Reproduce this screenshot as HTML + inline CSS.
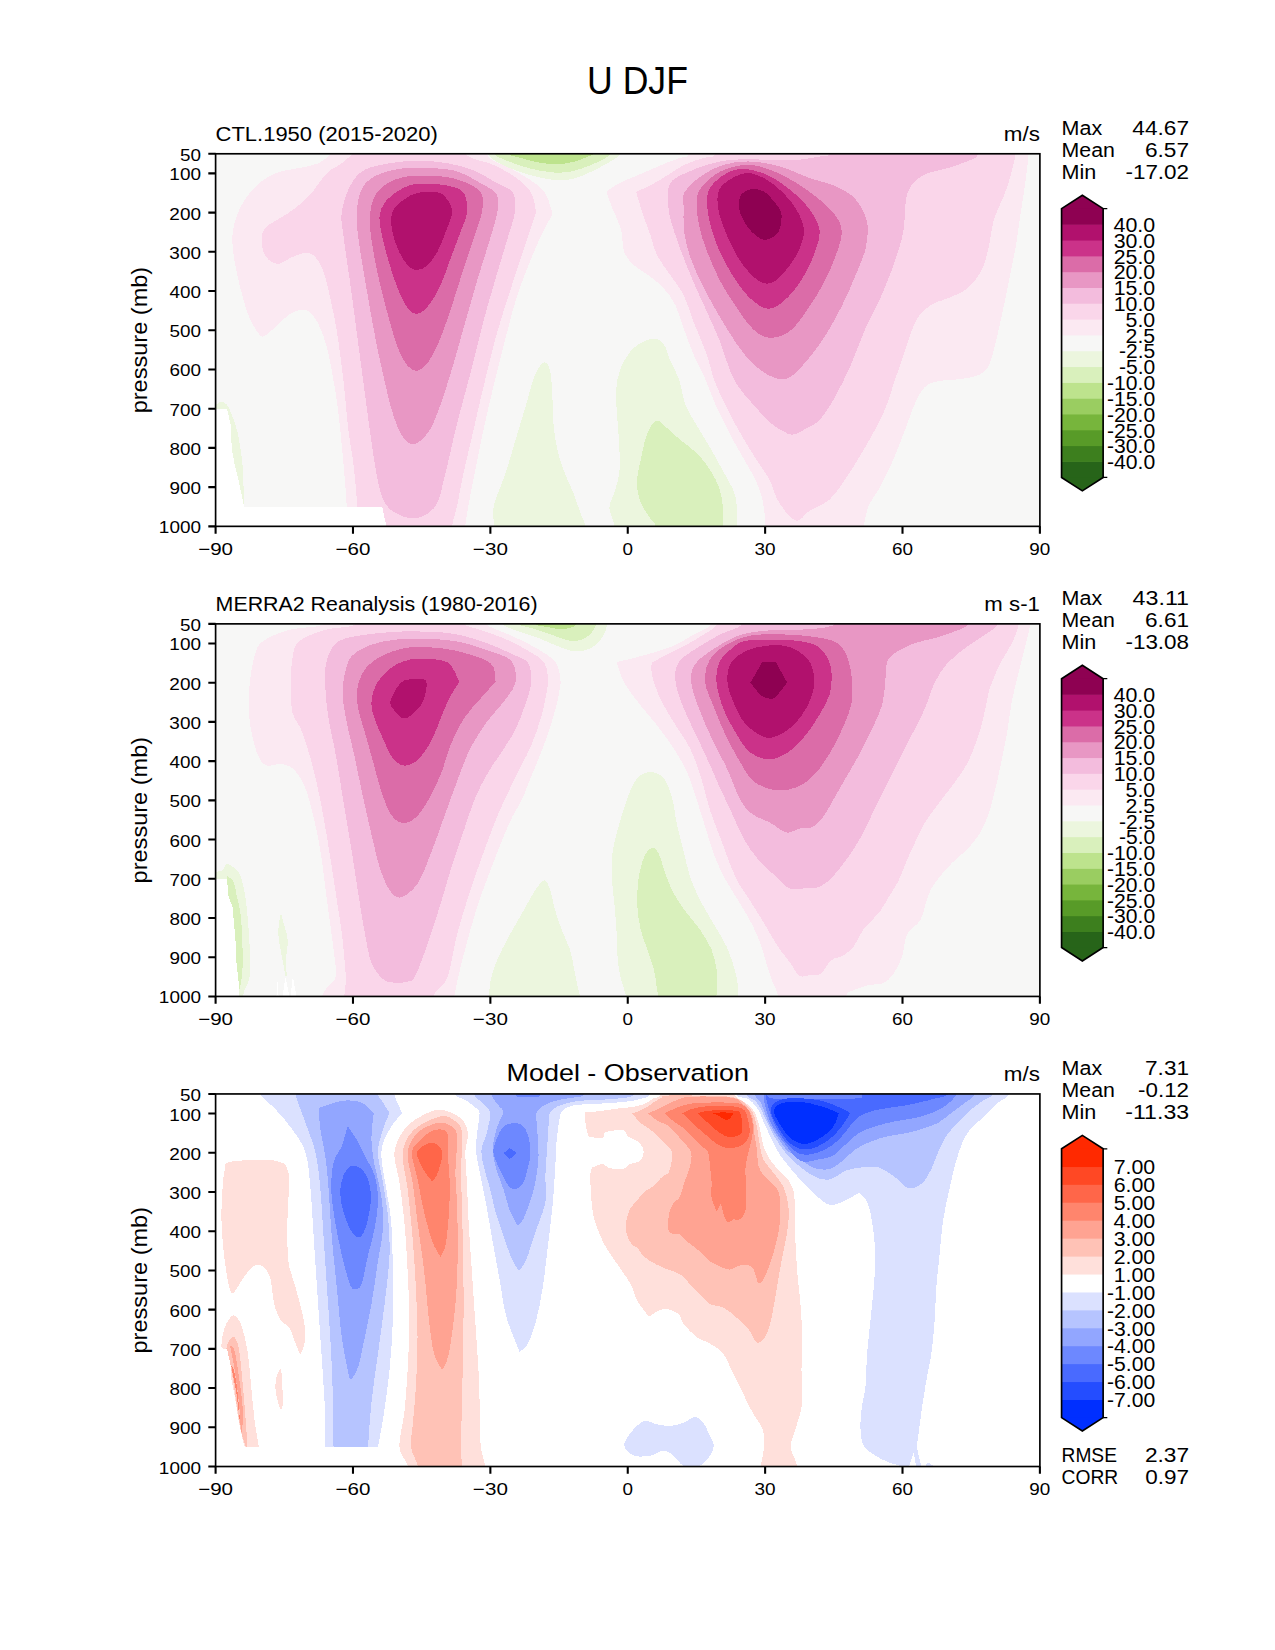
<!DOCTYPE html>
<html lang="en"><head><meta charset="utf-8"><title>U DJF</title>
<style>html,body{margin:0;padding:0;background:#fff}body{width:1275px;height:1650px;overflow:hidden}svg{display:block}text{font-family:"Liberation Sans",sans-serif;fill:#000}</style></head><body>
<svg width="1275" height="1650" viewBox="0 0 1275 1650">
<rect width="1275" height="1650" fill="#fff"/>
<defs>
<clipPath id="c0"><rect x="215.6" y="153.78" width="824.29" height="372.57"/></clipPath>
<clipPath id="c1"><rect x="215.6" y="623.87" width="824.29" height="372.57"/></clipPath>
<clipPath id="c2"><rect x="215.6" y="1093.95" width="824.29" height="372.57"/></clipPath>
</defs>
<g clip-path="url(#c0)" shape-rendering="crispEdges">
<rect x="215.6" y="153.78" width="824.29" height="372.57" fill="#f7f7f6"/>
<path d="M338.47 143.41 C335.18 146.71 329.14 158.24 318.71 163.18 C308.27 168.12 286.86 168.67 275.88 173.06 C264.9 177.45 259.14 182.94 252.82 189.53 C246.51 196.12 241.4 204.9 238 212.59 C234.6 220.27 232.95 227.41 232.4 235.65 C231.85 243.88 233.22 252.67 234.71 262 C236.19 271.33 238.82 282.31 241.29 291.65 C243.76 300.98 246.51 310.86 249.53 318 C252.55 325.14 256.94 331.45 259.41 334.47 C261.88 337.49 262.16 336.94 264.35 336.12 C266.55 335.29 268.47 333.1 272.59 329.53 C276.71 325.96 284.67 317.89 289.06 314.71 C293.45 311.52 295.65 310.97 298.94 310.42 C302.24 309.87 305.53 309.05 308.82 311.41 C312.12 313.77 315.69 318.55 318.71 324.59 C321.73 330.63 324.47 338.31 326.94 347.65 C329.41 356.98 331.61 369.61 333.53 380.59 C335.45 391.57 336.82 399.8 338.47 413.53 C340.12 427.25 342.04 447.4 343.41 462.94 C344.78 478.48 346.16 494.13 346.71 506.75 C347.25 519.38 346.71 533.38 346.71 538.71  L465.29 538.71  C465.29 536.51 464.47 532.67 465.29 525.53 C466.12 518.39 468.31 506.31 470.24 495.88 C472.16 485.45 474.63 473.92 476.82 462.94 C479.02 451.96 480.67 442.63 483.41 430 C486.16 417.37 490 400.9 493.29 387.18 C496.59 373.45 499.33 362.47 503.18 347.65 C507.02 332.82 511.69 313.06 516.35 298.24 C521.02 283.41 526.78 269.69 531.18 258.71 C535.57 247.73 539.14 239.76 542.71 232.35 C546.27 224.94 550.94 217.25 552.59 214.24  C551.49 210.94 549.02 199.69 546 194.47 C542.98 189.25 539.96 187.06 534.47 182.94 C528.98 178.82 520.47 173.88 513.06 169.76 C505.65 165.65 494.94 162.63 490 158.24 C485.06 153.84 484.51 145.88 483.41 143.41  L338.47 143.41 Z" fill="#fbe9f2"/>
<path d="M364.82 143.41 C360.98 146.71 348.08 158.24 341.76 163.18 C335.45 168.12 332.43 167.57 326.94 173.06 C321.45 178.55 315.14 189.53 308.82 196.12 C302.51 202.71 296.47 207.1 289.06 212.59 C281.65 218.08 268.75 223.02 264.35 229.06 C259.96 235.1 261.88 243.61 262.71 248.82 C263.53 254.04 266.55 257.88 269.29 260.35 C272.04 262.82 275.33 264.2 279.18 263.65 C283.02 263.1 287.96 258.87 292.35 257.06 C296.75 255.25 301.69 252.78 305.53 252.78 C309.37 252.78 312.39 253.87 315.41 257.06 C318.43 260.24 321.18 265.02 323.65 271.88 C326.12 278.75 328.04 288.35 330.24 298.24 C332.43 308.12 334.63 317.45 336.82 331.18 C339.02 344.9 341.49 364.12 343.41 380.59 C345.33 397.06 346.71 416.27 348.35 430 C350 443.73 351.81 450.15 353.29 462.94 C354.78 475.73 356.59 494.13 357.25 506.75 C357.91 519.38 357.25 533.38 357.25 538.71  L452.12 538.71  C452.12 536.51 451.29 531.02 452.12 525.53 C452.94 520.04 455.14 514.55 457.06 505.76 C458.98 496.98 460.9 485.45 463.65 472.82 C466.39 460.2 470.24 444.27 473.53 430 C476.82 415.73 479.57 403.1 483.41 387.18 C487.25 371.25 491.65 352.04 496.59 334.47 C501.53 316.9 508.12 297.14 513.06 281.76 C518 266.39 522.39 253.76 526.24 242.24 C530.08 230.71 534.47 217.53 536.12 212.59  C535.29 209.29 534.47 198.59 531.18 192.82 C527.88 187.06 522.67 182.67 516.35 178 C510.04 173.33 500.98 168.28 493.29 164.82 C485.61 161.36 476.82 160.82 470.24 157.25 C463.65 153.68 456.51 145.72 453.76 143.41  L364.82 143.41 Z" fill="#fad6ea"/>
<path d="M420.82 160.87 C429.61 160.98 438.39 161.58 447.18 163.18 C455.96 164.77 465.29 167.13 473.53 170.42 C481.76 173.72 490 179.21 496.59 182.94 C503.18 186.67 510.04 187.88 513.06 192.82 C516.08 197.76 515.8 204.35 514.71 212.59 C513.61 220.82 509.49 231.8 506.47 242.24 C503.45 252.67 500.43 262 496.59 275.18 C492.75 288.35 487.8 304.82 483.41 321.29 C479.02 337.76 474.63 356.98 470.24 374 C465.84 391.02 461.18 406.94 457.06 423.41 C452.94 439.88 449.1 459.1 445.53 472.82 C441.96 486.55 440.59 498.19 435.65 505.76 C430.71 513.34 422.75 517.18 415.88 518.28 C409.02 519.38 399.96 515.54 394.47 512.35 C388.98 509.17 385.96 505.76 382.94 499.18 C379.92 492.59 378.55 484.35 376.35 472.82 C374.16 461.29 371.96 445.37 369.76 430 C367.57 414.63 365.37 397.06 363.18 380.59 C360.98 364.12 358.78 347.65 356.59 331.18 C354.39 314.71 352.2 297.69 350 281.76 C347.8 265.84 344.78 247.18 343.41 235.65 C342.04 224.12 340.67 220.82 341.76 212.59 C342.86 204.35 346.16 193.37 350 186.24 C353.84 179.1 357.41 173.72 364.82 169.76 C372.24 165.81 385.14 164 394.47 162.52 C403.8 161.04 412.04 160.76 420.82 160.87 Z" fill="#f3bcdd"/>
<path d="M420.82 168.12 C430.16 168.34 443.88 167.95 453.76 170.42 C463.65 172.89 472.98 178.93 480.12 182.94 C487.25 186.95 493.73 189.53 496.59 194.47 C499.44 199.41 498.35 205.18 497.25 212.59 C496.15 220 493.4 227.41 490 238.94 C486.6 250.47 481.22 266.94 476.82 281.76 C472.43 296.59 468.04 312.51 463.65 327.88 C459.25 343.25 454.86 359.73 450.47 374 C446.08 388.27 441.14 403.65 437.29 413.53 C433.45 423.41 431.25 428.19 427.41 433.29 C423.57 438.4 418.35 443.62 414.24 444.16 C410.12 444.71 406.27 441.69 402.71 436.59 C399.14 431.48 396.12 423.96 392.82 413.53 C389.53 403.1 385.96 387.18 382.94 374 C379.92 360.82 377.45 348.75 374.71 334.47 C371.96 320.2 368.94 302.63 366.47 288.35 C364 274.08 361.53 260.9 359.88 248.82 C358.24 236.75 356.31 225.76 356.59 215.88 C356.86 206 358.51 196.12 361.53 189.53 C364.55 182.94 368.67 179.76 374.71 176.35 C380.75 172.95 390.08 170.48 397.76 169.11 C405.45 167.73 411.49 167.9 420.82 168.12 Z" fill="#e897c4"/>
<path d="M420.82 175.69 C427.96 175.69 438.94 175.53 447.18 177.01 C455.41 178.49 464.47 181.68 470.24 184.59 C476 187.5 479.84 189.8 481.76 194.47 C483.69 199.14 483.14 205.18 481.76 212.59 C480.39 220 476.55 229.61 473.53 238.94 C470.51 248.27 467.22 257.61 463.65 268.59 C460.08 279.57 455.96 293.29 452.12 304.82 C448.27 316.35 444.43 328.43 440.59 337.76 C436.75 347.1 432.9 355.33 429.06 360.82 C425.22 366.31 421.1 369.88 417.53 370.71 C413.96 371.53 410.94 369.61 407.65 365.76 C404.35 361.92 401.06 356.16 397.76 347.65 C394.47 339.14 391.18 326.78 387.88 314.71 C384.59 302.63 380.75 287.8 378 275.18 C375.25 262.55 372.78 248.82 371.41 238.94 C370.04 229.06 369.22 223.02 369.76 215.88 C370.31 208.75 371.69 201.61 374.71 196.12 C377.73 190.63 382.94 186.13 387.88 182.94 C392.82 179.76 398.86 178.22 404.35 177.01 C409.84 175.8 413.69 175.69 420.82 175.69 Z" fill="#db6ca8"/>
<path d="M424.12 183.6 C430.16 183.71 440.59 184.04 447.18 185.58 C453.76 187.11 460.35 188.32 463.65 192.82 C466.94 197.33 467.49 206 466.94 212.59 C466.39 219.18 463.1 224.67 460.35 232.35 C457.61 240.04 453.76 249.92 450.47 258.71 C447.18 267.49 444.16 277.37 440.59 285.06 C437.02 292.75 432.9 300.05 429.06 304.82 C425.22 309.6 421.1 313.17 417.53 313.72 C413.96 314.27 410.94 312.35 407.65 308.12 C404.35 303.89 401.06 296.59 397.76 288.35 C394.47 280.12 390.63 268.04 387.88 258.71 C385.14 249.37 382.67 239.49 381.29 232.35 C379.92 225.22 379.1 220.82 379.65 215.88 C380.2 210.94 381.57 206.82 384.59 202.71 C387.61 198.59 393.37 194.14 397.76 191.18 C402.16 188.21 406.55 186.18 410.94 184.92 C415.33 183.65 418.08 183.49 424.12 183.6 Z" fill="#cb3289"/>
<path d="M437.29 192.16 C442.24 193.26 444.71 196.01 447.18 199.41 C449.65 202.82 452.39 207.1 452.12 212.59 C451.84 218.08 448 225.76 445.53 232.35 C443.06 238.94 440.31 246.63 437.29 252.12 C434.27 257.61 430.71 262.33 427.41 265.29 C424.12 268.26 420.82 269.91 417.53 269.91 C414.24 269.91 410.94 268.81 407.65 265.29 C404.35 261.78 400.4 254.86 397.76 248.82 C395.13 242.78 392.66 235.37 391.84 229.06 C391.01 222.75 390.74 215.88 392.82 210.94 C394.91 206 400.24 202.43 404.35 199.41 C408.47 196.39 412.04 194.03 417.53 192.82 C423.02 191.62 432.35 191.07 437.29 192.16 Z" fill="#b1116d"/>
<path d="M487.53 143.41 C487.53 145.17 485.61 150.66 487.53 153.95 C489.45 157.25 493.84 160.27 499.06 163.18 C504.27 166.09 511.69 168.94 518.82 171.41 C525.96 173.88 534.2 176.52 541.88 178 C549.57 179.48 557.8 180.85 564.94 180.31 C572.08 179.76 578.12 177.29 584.71 174.71 C591.29 172.13 598.71 168.12 604.47 164.82 C610.24 161.53 616.82 158.51 619.29 154.94 C621.76 151.37 619.29 145.33 619.29 143.41  L487.53 143.41 Z" fill="#ecf6de"/>
<path d="M494.12 143.41 C494.12 145.17 491.65 150.93 494.12 153.95 C496.59 156.97 503.18 159.17 508.94 161.53 C514.71 163.89 521.57 166.31 528.71 168.12 C535.84 169.93 544.63 171.85 551.76 172.4 C558.9 172.95 564.94 172.67 571.53 171.41 C578.12 170.15 584.98 167.57 591.29 164.82 C597.61 162.08 606.39 158.51 609.41 154.94 C612.43 151.37 609.41 145.33 609.41 143.41  L494.12 143.41 Z" fill="#d9f0bc"/>
<path d="M508.94 143.41 C508.94 145.17 506.75 151.48 508.94 153.95 C511.14 156.42 517.18 156.81 522.12 158.24 C527.06 159.66 532.55 161.53 538.59 162.52 C544.63 163.51 552.31 164.33 558.35 164.16 C564.39 164 569.88 162.79 574.82 161.53 C579.76 160.27 584.98 157.85 588 156.59 C591.02 155.33 592.12 156.15 592.94 153.95 C593.76 151.76 592.94 145.17 592.94 143.41  L508.94 143.41 Z" fill="#bde38d"/>
<path d="M687.81 143.41 C687.81 145.44 688.91 153.24 687.81 155.6 C686.71 157.96 684.9 156.31 681.22 157.58 C677.55 158.84 671.23 160.98 665.74 163.18 C660.25 165.37 653.77 168.39 648.28 170.75 C642.79 173.11 637.91 175.15 632.8 177.34 C627.69 179.54 622.04 181.51 617.65 183.93 C613.25 186.35 608.31 190.52 606.45 191.84  C607.49 194.75 610.29 203.09 612.71 209.29 C615.12 215.5 619.02 221.92 620.94 229.06 C622.86 236.2 622.04 246.08 624.24 252.12 C626.43 258.16 629.73 261.18 634.12 265.29 C638.51 269.41 645.65 272.98 650.59 276.82 C655.53 280.67 659.65 283.69 663.76 288.35 C667.88 293.02 672 298.24 675.29 304.82 C678.59 311.41 680.51 319.65 683.53 327.88 C686.55 336.12 689.79 345.73 693.41 354.24 C697.04 362.75 701.65 370.65 705.27 378.94 C708.89 387.23 711.36 395.41 715.15 403.98 C718.94 412.54 723.83 422.2 728 430.33 C732.17 438.45 736.24 445.65 740.19 452.73 C744.14 459.81 748.37 466.35 751.72 472.82 C755.07 479.3 758.2 485.29 760.28 491.6 C762.37 497.91 763.36 505.05 764.24 510.71 C765.11 516.36 765.33 520.86 765.55 525.53 C765.77 530.2 765.55 536.51 765.55 538.71  L863.82 538.71  C863.82 536.51 863 531.02 863.82 525.53 C864.65 520.04 866.29 511.8 868.76 505.76 C871.24 499.73 874.8 496.43 878.65 489.29 C882.49 482.16 887.43 472.82 891.82 462.94 C896.22 453.06 901.16 439.88 905 430 C908.84 420.12 911.59 410.78 914.88 403.65 C918.18 396.51 920.92 390.91 924.76 387.18 C928.61 383.44 931.9 382.62 937.94 381.25 C943.98 379.87 953.86 380.15 961 378.94 C968.14 377.73 975.82 377.02 980.76 374 C985.71 370.98 987.35 369.61 990.65 360.82 C993.94 352.04 997.51 334.47 1000.53 321.29 C1003.55 308.12 1006.29 293.84 1008.76 281.76 C1011.24 269.69 1013.43 259.8 1015.35 248.82 C1017.27 237.84 1018.65 226.86 1020.29 215.88 C1021.94 204.9 1023.86 193.1 1025.24 182.94 C1026.61 172.78 1027.98 161.53 1028.53 154.94 C1029.08 148.35 1028.53 145.33 1028.53 143.41  L687.81 143.41 Z" fill="#fbe9f2"/>
<path d="M714.16 143.41 C714.16 145.44 715.65 153.24 714.16 155.6 C712.68 157.96 708.56 156.7 705.27 157.58 C701.98 158.45 698.41 159.39 694.4 160.87 C690.39 162.35 686 163.89 681.22 166.47 C676.45 169.05 670.85 173.22 665.74 176.35 C660.64 179.48 655.53 182.67 650.59 185.25 C645.65 187.83 638.51 190.74 636.09 191.84  C637.14 195.29 639.94 205.29 642.35 212.59 C644.77 219.89 648.12 228.51 650.59 235.65 C653.06 242.78 653.88 248.82 657.18 255.41 C660.47 262 665.96 268.59 670.35 275.18 C674.75 281.76 679.69 287.25 683.53 294.94 C687.37 302.63 689.57 311.41 693.41 321.29 C697.25 331.18 702.96 344.02 706.59 354.24 C710.21 364.45 711.58 373.23 715.15 382.56 C718.72 391.9 723.61 401.45 728 410.24 C732.39 419.02 736.95 427.31 741.51 435.27 C746.06 443.23 750.73 450.7 755.34 458 C759.95 465.3 765.61 472.38 769.18 479.08 C772.75 485.78 774.01 492.75 776.75 498.19 C779.5 503.62 782.72 508.07 785.65 511.69 C788.57 515.32 791.83 518.67 794.32 519.93 C796.81 521.19 798.16 520.7 800.58 519.27 C802.99 517.84 803.98 514.66 808.81 511.36 C813.64 508.07 823.36 505.05 829.56 499.51 C835.77 493.96 840.16 486.71 846.04 478.09 C851.91 469.47 858.55 458.71 864.81 447.79 C871.07 436.86 878.59 423.74 883.59 412.54 C888.58 401.34 891.05 391.4 894.79 380.59 C898.52 369.77 902.36 357.8 905.99 347.65 C909.61 337.49 912.3 326.78 916.53 319.65 C920.76 312.51 926.14 308.39 931.35 304.82 C936.57 301.25 941.78 300.98 947.82 298.24 C953.86 295.49 961.82 293.29 967.59 288.35 C973.35 283.41 978.84 275.73 982.41 268.59 C985.98 261.45 987.08 253.76 989 245.53 C990.92 237.29 991.47 227.41 993.94 219.18 C996.41 210.94 1001.08 203.25 1003.82 196.12 C1006.57 188.98 1008.49 183.22 1010.41 176.35 C1012.33 169.49 1014.53 160.43 1015.35 154.94 C1016.18 149.45 1015.35 145.33 1015.35 143.41  L714.16 143.41 Z" fill="#fad6ea"/>
<path d="M828.47 143.41 C828.47 145.33 829.95 152.75 828.47 154.94 C826.99 157.14 824.74 155.76 819.58 156.59 C814.42 157.41 805.58 159.33 797.51 159.88 C789.44 160.43 779.94 159.99 771.15 159.88 C762.37 159.77 752.82 159.06 744.8 159.22 C736.78 159.39 729.65 159.83 723.06 160.87 C716.47 161.91 711.15 163.62 705.27 165.48 C699.4 167.35 693.3 169.55 687.81 172.07 C682.32 174.6 675.62 177.34 672.33 180.64 C669.04 183.93 668.49 185.96 668.05 191.84 C667.61 197.71 667.66 206.38 669.69 215.88 C671.73 225.38 676.28 237.84 680.24 248.82 C684.19 259.8 689.24 271.88 693.41 281.76 C697.58 291.65 700.99 298.51 705.27 308.12 C709.55 317.73 715.59 330.74 719.11 339.41 C722.62 348.09 723.61 352.97 726.35 360.16 C729.1 367.36 731.57 375.7 735.58 382.56 C739.58 389.43 744.58 394.64 750.4 401.34 C756.22 408.04 764.89 417.7 770.49 422.75 C776.09 427.8 780.25 429.67 784 431.65 C787.75 433.62 789.36 435.11 793 434.61 C796.64 434.12 801.35 431.21 805.85 428.68 C810.35 426.16 815.29 424.51 820.01 419.46 C824.73 414.41 829.07 407.38 834.18 398.38 C839.28 389.37 845.54 376.85 850.65 365.44 C855.75 354.02 859.87 341.06 864.81 329.86 C869.75 318.66 875.52 309 880.29 298.24 C885.07 287.47 889.9 275.18 893.47 265.29 C897.04 255.41 899.89 246.08 901.71 238.94 C903.52 231.8 903.52 229.61 904.34 222.47 C905.16 215.33 904.89 202.98 906.65 196.12 C908.4 189.25 911.31 185.14 914.88 181.29 C918.45 177.45 922.57 175.25 928.06 173.06 C933.55 170.86 940.69 170.31 947.82 168.12 C954.96 165.92 965.94 162.08 970.88 159.88 C975.82 157.69 976.37 157.69 977.47 154.94 C978.57 152.2 977.47 145.33 977.47 143.41  L828.47 143.41 Z" fill="#f3bcdd"/>
<path d="M750.18 161.53 C759.51 161.8 769.94 163.73 779.82 166.47 C789.71 169.22 800.14 174.71 809.47 178 C818.8 181.29 828.14 182.67 835.82 186.24 C843.51 189.8 850.37 193.37 855.59 199.41 C860.8 205.45 865.47 214.24 867.12 222.47 C868.76 230.71 867.39 240.04 865.47 248.82 C863.55 257.61 859.43 265.84 855.59 275.18 C851.75 284.51 847.35 294.94 842.41 304.82 C837.47 314.71 831.43 325.69 825.94 334.47 C820.45 343.25 815.51 350.39 809.47 357.53 C803.43 364.67 795.75 374 789.71 377.29 C783.67 380.59 779.27 379.49 773.24 377.29 C767.2 375.1 759.51 369.61 753.47 364.12 C747.43 358.63 742.49 352.04 737 344.35 C731.51 336.67 726.02 327.33 720.53 318 C715.04 308.67 709 298.24 704.06 288.35 C699.12 278.47 694.18 268.04 690.88 258.71 C687.59 249.37 685.5 241.14 684.29 232.35 C683.09 223.57 683.64 212.59 683.64 206 C683.64 199.41 681.44 197.76 684.29 192.82 C687.15 187.88 694.18 181.02 700.76 176.35 C707.35 171.69 715.59 167.29 723.82 164.82 C732.06 162.35 740.84 161.25 750.18 161.53 Z" fill="#e897c4"/>
<path d="M746.88 164.82 C755.12 164.55 761.71 166.75 769.94 169.76 C778.18 172.78 788.06 178 796.29 182.94 C804.53 187.88 812.76 193.92 819.35 199.41 C825.94 204.9 832.09 210.39 835.82 215.88 C839.56 221.37 841.75 225.76 841.75 232.35 C841.75 238.94 839.01 246.63 835.82 255.41 C832.64 264.2 827.59 275.73 822.65 285.06 C817.71 294.39 811.67 303.73 806.18 311.41 C800.69 319.1 795.75 326.78 789.71 331.18 C783.67 335.57 775.98 338.04 769.94 337.76 C763.9 337.49 758.96 334.47 753.47 329.53 C747.98 324.59 742.49 316.08 737 308.12 C731.51 300.16 725.47 291.1 720.53 281.76 C715.59 272.43 710.92 261.45 707.35 252.12 C703.78 242.78 700.87 234.55 699.12 225.76 C697.36 216.98 696.26 206 696.81 199.41 C697.36 192.82 698.46 190.9 702.41 186.24 C706.36 181.57 713.12 174.98 720.53 171.41 C727.94 167.84 738.65 165.1 746.88 164.82 Z" fill="#db6ca8"/>
<path d="M743.59 168.78 C750.18 169.05 758.96 171.25 766.65 174.71 C774.33 178.16 782.57 183.76 789.71 189.53 C796.84 195.29 804.53 202.71 809.47 209.29 C814.41 215.88 818.25 222.47 819.35 229.06 C820.45 235.65 818.25 241.69 816.06 248.82 C813.86 255.96 810.02 264.75 806.18 271.88 C802.33 279.02 797.94 285.88 793 291.65 C788.06 297.41 781.47 303.84 776.53 306.47 C771.59 309.11 768.29 309.38 763.35 307.46 C758.41 305.54 752.37 300.87 746.88 294.94 C741.39 289.01 735.35 280.12 730.41 271.88 C725.47 263.65 720.8 254.31 717.24 245.53 C713.67 236.75 710.65 227.41 709 219.18 C707.35 210.94 706.53 202.16 707.35 196.12 C708.18 190.08 710.65 186.78 713.94 182.94 C717.24 179.1 722.18 175.42 727.12 173.06 C732.06 170.7 737 168.5 743.59 168.78 Z" fill="#cb3289"/>
<path d="M746.88 173.06 C753.47 172.78 760.61 176.35 766.65 179.65 C772.69 182.94 778.18 187.88 783.12 192.82 C788.06 197.76 792.84 203.25 796.29 209.29 C799.75 215.33 803.32 222.47 803.87 229.06 C804.42 235.65 801.95 242.78 799.59 248.82 C797.23 254.86 793.55 260.08 789.71 265.29 C785.86 270.51 780.65 277.1 776.53 280.12 C772.41 283.14 768.84 283.96 765 283.41 C761.16 282.86 757.86 280.94 753.47 276.82 C749.08 272.71 743.04 265.57 738.65 258.71 C734.25 251.84 730.41 243.33 727.12 235.65 C723.82 227.96 720.36 219.73 718.88 212.59 C717.4 205.45 716.85 198.04 718.22 192.82 C719.6 187.61 722.34 184.59 727.12 181.29 C731.89 178 740.29 173.33 746.88 173.06 Z" fill="#b1116d"/>
<path d="M750.18 189.53 C754.02 188.71 759.24 188.98 763.35 191.18 C767.47 193.37 771.86 198.86 774.88 202.71 C777.9 206.55 780.92 209.29 781.47 214.24 C782.02 219.18 780.65 228.13 778.18 232.35 C775.71 236.58 770.22 238.94 766.65 239.6 C763.08 240.26 760.06 238.61 756.76 236.31 C753.47 234 749.74 229.99 746.88 225.76 C744.03 221.54 740.73 215.88 739.64 210.94 C738.54 206 738.54 199.69 740.29 196.12 C742.05 192.55 746.33 190.35 750.18 189.53 Z" fill="#8e0152"/>
<path d="M584.71 538.71 L494.12 538.71  C494.12 536.51 494.28 529.92 494.12 525.53 C493.95 521.14 492.85 516.75 493.13 512.35 C493.4 507.96 493.68 505.76 495.76 499.18 C497.85 492.59 502.35 482.71 505.65 472.82 C508.94 462.94 512.24 450.86 515.53 439.88 C518.82 428.9 522.12 417.92 525.41 406.94 C528.71 395.96 532.11 381.41 535.29 374 C538.48 366.59 542.05 363.02 544.52 362.47 C546.99 361.92 548.8 364.94 550.12 370.71 C551.44 376.47 551.87 388.27 552.42 397.06 C552.97 405.84 552.7 415.18 553.41 423.41 C554.13 431.65 555.06 438.78 556.71 446.47 C558.35 454.16 560.55 461.84 563.29 469.53 C566.04 477.22 570.16 484.9 573.18 492.59 C576.2 500.27 579.49 510.43 581.41 515.65 C583.33 520.86 584.16 520.04 584.71 523.88 C585.25 527.73 584.71 536.24 584.71 538.71 Z" fill="#ecf6de"/>
<path d="M736.89 538.71 L614.35 538.71  C614.35 536.51 615.18 530.75 614.35 525.53 C613.53 520.31 609.41 512.9 609.41 507.41 C609.41 501.92 612.71 498.35 614.35 492.59 C616 486.82 618.47 480.51 619.29 472.82 C620.12 465.14 619.68 456.35 619.29 446.47 C618.91 436.59 617.54 422.86 616.99 413.53 C616.44 404.2 615.34 398.16 616 390.47 C616.66 382.78 617.92 374.55 620.94 367.41 C623.96 360.27 628.9 352.42 634.12 347.65 C639.33 342.87 647.29 339.3 652.24 338.75 C657.18 338.2 660.75 340.67 663.76 344.35 C666.78 348.03 667.83 355.06 670.35 360.82 C672.88 366.59 676.45 371.75 678.92 378.94 C681.39 386.13 682.49 396.67 685.18 403.98 C687.87 411.28 691.11 415.84 695.06 422.75 C699.01 429.67 704.28 437.52 708.89 445.48 C713.51 453.44 718.72 463.22 722.73 470.52 C726.74 477.82 730.64 483.64 732.94 489.29 C735.25 494.95 735.91 498.41 736.56 504.45 C737.22 510.49 736.84 519.82 736.89 525.53 C736.95 531.24 736.89 536.51 736.89 538.71 Z" fill="#ecf6de"/>
<path d="M723.06 538.71 L655.53 538.71  C655.53 536.51 656.35 528.82 655.53 525.53 C654.71 522.24 653.06 522.78 650.59 518.94 C648.12 515.1 643.01 508.51 640.71 502.47 C638.4 496.43 636.75 489.84 636.75 482.71 C636.75 475.57 638.95 467.88 640.71 459.65 C642.46 451.41 644.66 439.77 647.29 433.29 C649.93 426.82 653.5 421.87 656.52 420.78 C659.54 419.68 661.46 423.52 665.41 426.71 C669.36 429.89 675.02 435.49 680.24 439.88 C685.45 444.27 691.76 448.12 696.71 453.06 C701.65 458 706.04 463.49 709.88 469.53 C713.73 475.57 717.57 482.71 719.76 489.29 C721.96 495.88 722.51 503.02 723.06 509.06 C723.61 515.1 723.06 520.59 723.06 525.53 C723.06 530.47 723.06 536.51 723.06 538.71 Z" fill="#d9f0bc"/>
<path d="M205 404.1 C206.83 404.1 213.25 404.48 216 404.1 C218.75 403.72 219.67 401.67 221.5 401.8 C223.33 401.93 225.17 402.42 227 404.9 C228.83 407.38 230.8 412.38 232.5 416.7 C234.2 421.02 235.9 425.58 237.2 430.8 C238.5 436.02 239.4 442.25 240.3 448 C241.2 453.75 242.08 459.28 242.6 465.3 C243.12 471.32 243.13 478.35 243.4 484.1 C243.67 489.85 244.03 495.48 244.2 499.8 C244.37 504.12 244.37 508.3 244.4 510  L205 510  L205 404.1 Z" fill="#ecf6de"/>
<path d="M205 408.8 L227 408.8 L230.9 426.1 L231.7 448 L234.8 465.3 L238.7 481 L244.2 506.9 L382.3 506.9 L386.5 527 L386.5 540 L205 540 Z" fill="#ffffff"/>
</g>
<path d="M215.6 526.35 v7.29 M352.98 526.35 v7.29 M490.37 526.35 v7.29 M627.75 526.35 v7.29 M765.13 526.35 v7.29 M902.51 526.35 v7.29 M1039.89 526.35 v7.29 M215.6 153.78 h-7.29 M215.6 173.39 h-7.29 M215.6 212.61 h-7.29 M215.6 251.82 h-7.29 M215.6 291.04 h-7.29 M215.6 330.26 h-7.29 M215.6 369.48 h-7.29 M215.6 408.7 h-7.29 M215.6 447.91 h-7.29 M215.6 487.13 h-7.29 M215.6 526.35 h-7.29" stroke="#000" stroke-width="2.08" fill="none"/>
<rect x="215.6" y="153.78" width="824.29" height="372.57" fill="none" stroke="#000" stroke-width="1.67"/>
<g clip-path="url(#c1)" shape-rendering="crispEdges">
<rect x="215.6" y="623.87" width="824.29" height="372.57" fill="#f7f7f6"/>
<path d="M322 613.41 C322 615.33 327.49 622.2 322 624.94 C316.51 627.69 298.94 627.14 289.06 629.88 C279.18 632.63 268.47 637.02 262.71 641.41 C256.94 645.8 256.67 648.82 254.47 656.24 C252.27 663.65 250.46 676.55 249.53 685.88 C248.6 695.22 248.32 703.45 248.87 712.24 C249.42 721.02 251.07 730.9 252.82 738.59 C254.58 746.27 256.94 753.8 259.41 758.35 C261.88 762.91 264.35 765 267.65 765.93 C270.94 766.86 275.06 763.57 279.18 763.95 C283.29 764.34 288.24 764.78 292.35 768.24 C296.47 771.69 300.59 777.57 303.88 784.71 C307.18 791.84 309.37 800.08 312.12 811.06 C314.86 822.04 317.88 835.76 320.35 850.59 C322.82 865.41 324.75 883.53 326.94 900 C329.14 916.47 332.05 936.78 333.53 949.41 C335.01 962.04 336.66 969.73 335.84 975.76 C335.01 981.8 330.89 982.35 328.59 985.65 C326.28 988.94 323.1 991.69 322 995.53 C320.9 999.37 322 1006.51 322 1008.71  L454.75 1008.71  C454.75 1006.18 453.22 1002.72 454.75 993.55 C456.29 984.38 460.46 967.42 463.98 953.69 C467.49 939.97 471.5 924.93 475.84 911.2 C480.17 897.47 484.51 885.84 490 871.34 C495.49 856.85 503.51 836.09 508.78 824.24 C514.05 812.38 518.44 806.78 521.62 800.19 C524.81 793.6 525.25 791.18 527.88 784.71 C530.52 778.23 534.31 769.17 537.44 761.32 C540.56 753.47 543.53 746.77 546.66 737.6 C549.79 728.43 553.85 715.47 556.21 706.31 C558.57 697.14 560.05 686.54 560.82 682.59  C560 679.29 560 668.59 555.88 662.82 C551.76 657.06 543.25 652.39 536.12 648 C528.98 643.61 520.2 639.76 513.06 636.47 C505.92 633.18 497.69 630.32 493.29 628.24 C488.9 626.15 487.8 626.42 486.71 623.95 C485.61 621.48 486.71 615.17 486.71 613.41  L322 613.41 Z" fill="#fbe9f2"/>
<path d="M354.94 613.41 C354.94 615.33 359.88 622.2 354.94 624.94 C350 627.69 334.63 627.14 325.29 629.88 C315.96 632.63 304.43 636.47 298.94 641.41 C293.45 646.35 293.73 652.12 292.35 659.53 C290.98 666.94 290.71 677.1 290.71 685.88 C290.71 694.67 290.43 704.55 292.35 712.24 C294.27 719.92 299.22 724.31 302.24 732 C305.25 739.69 308 749.57 310.47 758.35 C312.94 767.14 314.86 774.82 317.06 784.71 C319.25 794.59 321.45 805.57 323.65 817.65 C325.84 829.73 328.04 843.45 330.24 857.18 C332.43 870.9 334.9 887.37 336.82 900 C338.75 912.63 340.39 921.96 341.76 932.94 C343.14 943.92 344.4 957.65 345.06 965.88 C345.72 974.12 345.83 977.41 345.72 982.35 C345.61 987.29 344.62 991.14 344.4 995.53 C344.18 999.92 344.4 1006.51 344.4 1008.71  L434.66 1008.71  C434.66 1006.18 432.52 998.82 434.66 993.55 C436.8 988.28 443.77 986.91 447.51 977.08 C451.24 967.25 453.11 949.47 457.06 934.59 C461.01 919.71 465.35 905.44 471.22 887.81 C477.1 870.19 486.76 843.45 492.31 828.85 C497.85 814.24 500.16 809.74 504.49 800.19 C508.83 790.64 513.88 780.64 518.33 771.53 C522.78 762.42 527.22 755.06 531.18 745.51 C535.13 735.95 539.19 724.7 542.05 714.21 C544.9 703.73 547.26 687.86 548.31 682.59  C547.65 679.29 548.03 668.31 544.35 662.82 C540.67 657.33 533.1 653.76 526.24 649.65 C519.37 645.53 510.86 641.41 503.18 638.12 C495.49 634.82 486.71 632.24 480.12 629.88 C473.53 627.52 466.39 626.7 463.65 623.95 C460.9 621.21 463.65 615.17 463.65 613.41  L354.94 613.41 Z" fill="#fad6ea"/>
<path d="M420.82 631.53 C430.71 631.86 442.78 631.91 453.76 633.84 C464.75 635.76 476.82 639.6 486.71 643.06 C496.59 646.52 506.2 651.29 513.06 654.59 C519.92 657.88 524.86 658.16 527.88 662.82 C530.9 667.49 531.73 675.34 531.18 682.59 C530.63 689.84 527.22 698.45 524.59 706.31 C521.95 714.16 518.99 722.39 515.36 729.69 C511.74 737 507.46 742.87 502.85 750.12 C498.24 757.36 492.31 765.22 487.69 773.18 C483.08 781.14 479.07 788.55 475.18 797.88 C471.28 807.22 468.09 818.14 464.31 829.18 C460.52 840.21 456.78 850.42 452.45 864.09 C448.11 877.76 443 896.27 438.28 911.2 C433.56 926.13 428.07 942.71 424.12 953.69 C420.16 964.67 417.31 972.42 414.56 977.08 C411.82 981.75 411 980.76 407.65 981.69 C404.3 982.63 398.59 983.12 394.47 982.68 C390.35 982.24 386.78 982.41 382.94 979.06 C379.1 975.71 374.43 970.27 371.41 962.59 C368.39 954.9 367.02 944.47 364.82 932.94 C362.63 921.41 360.43 907.14 358.24 893.41 C356.04 879.69 354.12 865.96 351.65 850.59 C349.18 835.22 346.16 817.65 343.41 801.18 C340.67 784.71 337.65 765.49 335.18 751.76 C332.71 738.04 330.24 729.8 328.59 718.82 C326.94 707.84 325.57 695.76 325.29 685.88 C325.02 676 324.75 666.94 326.94 659.53 C329.14 652.12 332.16 645.53 338.47 641.41 C344.78 637.29 355.49 636.42 364.82 634.82 C374.16 633.23 385.14 632.41 394.47 631.86 C403.8 631.31 410.94 631.2 420.82 631.53 Z" fill="#f3bcdd"/>
<path d="M420.82 638.78 C431.25 639.05 445.53 639.33 457.06 641.41 C468.59 643.5 480.94 648 490 651.29 C499.06 654.59 507.18 655.96 511.41 661.18 C515.64 666.39 516.74 675.73 515.36 682.59 C513.99 689.45 507.95 695.76 503.18 702.35 C498.4 708.94 492.2 714.43 486.71 722.12 C481.22 729.8 475.18 738.59 470.24 748.47 C465.29 758.35 461.45 769.88 457.06 781.41 C452.67 792.94 448.27 805.57 443.88 817.65 C439.49 829.73 435.1 842.9 430.71 853.88 C426.31 864.86 422.47 876.28 417.53 883.53 C412.59 890.78 405.73 896.27 401.06 897.36 C396.39 898.46 393.1 895.17 389.53 890.12 C385.96 885.07 382.67 876.39 379.65 867.06 C376.63 857.73 374.16 845.65 371.41 834.12 C368.67 822.59 365.92 810.51 363.18 797.88 C360.43 785.25 357.69 770.98 354.94 758.35 C352.2 745.73 348.74 732.55 346.71 722.12 C344.67 711.69 343.14 703.45 342.75 695.76 C342.37 688.08 342.92 682.59 344.4 676 C345.88 669.41 347.15 661.45 351.65 656.24 C356.15 651.02 364.27 647.45 371.41 644.71 C378.55 641.96 386.24 640.75 394.47 639.76 C402.71 638.78 410.39 638.5 420.82 638.78 Z" fill="#e897c4"/>
<path d="M495.6 681.6 C493.02 684.51 485.44 692.85 480.12 699.06 C474.79 705.26 468.59 711.14 463.65 718.82 C458.71 726.51 454.31 735.84 450.47 745.18 C446.63 754.51 444.71 764.94 440.59 774.82 C436.47 784.71 430.27 797.06 425.76 804.47 C421.26 811.88 417.53 816.22 413.58 819.29 C409.62 822.37 405.84 823.74 402.05 822.92 C398.26 822.09 394.31 819.62 390.85 814.35 C387.39 809.08 384.26 800.08 381.29 791.29 C378.33 782.51 375.8 771.53 373.06 761.65 C370.31 751.76 367.29 740.78 364.82 732 C362.35 723.22 359.5 716.08 358.24 708.94 C356.97 701.8 356.15 695.76 357.25 689.18 C358.35 682.59 360.82 674.9 364.82 669.41 C368.83 663.92 375.25 659.64 381.29 656.24 C387.33 652.83 394.47 650.53 401.06 648.99 C407.65 647.45 412.04 646.79 420.82 647.01 C429.61 647.23 442.24 647.67 453.76 650.31 C465.29 652.94 483.03 657.61 490 662.82 C496.97 668.04 494.67 678.47 495.6 681.6 Z" fill="#db6ca8"/>
<path d="M459.36 681.6 C457.61 684.51 451.95 692.85 448.82 699.06 C445.69 705.26 443.61 711.69 440.59 718.82 C437.57 725.96 434.55 735.02 430.71 741.88 C426.86 748.75 421.92 756.05 417.53 760 C413.14 763.95 408.47 765.87 404.35 765.6 C400.24 765.33 396.39 762.85 392.82 758.35 C389.25 753.85 385.96 745.18 382.94 738.59 C379.92 732 376.63 724.86 374.71 718.82 C372.78 712.78 371.14 708.12 371.41 702.35 C371.69 696.59 373.06 690 376.35 684.24 C379.65 678.47 385.96 671.77 391.18 667.76 C396.39 663.76 402.71 661.67 407.65 660.19 C412.59 658.71 414.24 658.54 420.82 658.87 C427.41 659.2 440.75 658.38 447.18 662.16 C453.6 665.95 457.33 678.36 459.36 681.6 Z" fill="#cb3289"/>
<path d="M401.06 682.59 C405.01 679.02 410.01 679.46 414.24 679.29 C418.46 679.13 425.05 677.76 426.42 681.6 C427.8 685.44 425.05 696.7 422.47 702.35 C419.89 708.01 414.24 712.89 410.94 715.53 C407.65 718.16 405.45 718.99 402.71 718.16 C399.96 717.34 396.5 713.5 394.47 710.59 C392.44 707.68 389.42 705.37 390.52 700.71 C391.62 696.04 397.11 686.16 401.06 682.59 Z" fill="#b1116d"/>
<path d="M502.35 613.41 C502.35 615.17 499.61 620.93 502.35 623.95 C505.1 626.97 512.78 629.17 518.82 631.53 C524.86 633.89 532 635.65 538.59 638.12 C545.18 640.59 552.31 644.16 558.35 646.35 C564.39 648.55 569.33 651.02 574.82 651.29 C580.31 651.57 586.63 650.47 591.29 648 C595.96 645.53 600.19 640.48 602.82 636.47 C605.46 632.46 606.39 627.8 607.11 623.95 C607.82 620.11 607.11 615.17 607.11 613.41  L502.35 613.41 Z" fill="#ecf6de"/>
<path d="M518.82 613.41 C518.82 615.17 516.63 621.48 518.82 623.95 C521.02 626.42 526.51 626.42 532 628.24 C537.49 630.05 545.73 632.79 551.76 634.82 C557.8 636.85 563.29 639.6 568.24 640.42 C573.18 641.25 577.57 640.97 581.41 639.76 C585.25 638.56 588.82 635.81 591.29 633.18 C593.76 630.54 595.41 627.25 596.24 623.95 C597.06 620.66 596.24 615.17 596.24 613.41  L518.82 613.41 Z" fill="#d9f0bc"/>
<path d="M535.29 613.41 C535.29 615.17 533.1 621.65 535.29 623.95 C537.49 626.26 544.08 626.37 548.47 627.25 C552.86 628.13 557.8 629.22 561.65 629.22 C565.49 629.22 569.06 628.13 571.53 627.25 C574 626.37 575.65 626.26 576.47 623.95 C577.29 621.65 576.47 615.17 576.47 613.41  L535.29 613.41 Z" fill="#bde38d"/>
<path d="M709.88 613.41 C709.88 615.44 712.85 621.92 709.88 625.6 C706.92 629.28 698.35 632.02 692.09 635.48 C685.84 638.94 680.35 643.06 672.33 646.35 C664.31 649.65 653.28 652.61 644 655.25 C634.72 657.88 621.22 661.01 616.66 662.16  C617.92 665.57 620.23 675.34 624.24 682.59 C628.24 689.84 635.22 698.51 640.71 705.65 C646.2 712.78 651.69 718.27 657.18 725.41 C662.67 732.55 668.71 740.78 673.65 748.47 C678.59 756.16 683.25 763.84 686.82 771.53 C690.39 779.22 692.86 788.16 695.06 794.59 C697.25 801.01 697.75 802.88 700 810.07 C702.25 817.26 705.87 829.4 708.56 837.74 C711.25 846.09 713.23 853 716.14 860.14 C719.05 867.28 722.07 873.37 726.02 880.56 C729.98 887.76 735.58 896.1 739.86 903.29 C744.14 910.49 748.31 917.13 751.72 923.72 C755.12 930.31 757.98 936.73 760.28 942.82 C762.59 948.92 763.8 954.52 765.55 960.28 C767.31 966.05 768.79 971.7 770.82 977.41 C772.85 983.12 776.59 989.33 777.74 994.54 C778.89 999.76 777.74 1006.35 777.74 1008.71  L846.69 1008.71  C846.69 1006.35 845.27 997.73 846.69 994.54 C848.12 991.36 851.53 991.19 855.26 989.6 C858.99 988.01 864.48 986.03 869.09 984.99 C873.71 983.95 878.87 985.21 882.93 983.34 C886.99 981.47 890.29 978.24 893.47 973.79 C896.65 969.34 899.78 963.25 902.04 956.66 C904.29 950.07 903.96 940.3 906.98 934.26 C910 928.22 916.86 926.13 920.15 920.42 C923.45 914.71 924.82 905.38 926.74 900 C928.66 894.62 929.54 891.98 931.68 888.14 C933.82 884.3 936.13 881.22 939.59 876.94 C943.05 872.66 947.88 867 952.44 862.45 C956.99 857.89 962.37 854.43 966.93 849.6 C971.49 844.77 976.26 839.11 979.78 833.46 C983.29 827.8 985.6 822.37 988.01 815.67 C990.43 808.97 992.13 801.84 994.27 793.27 C996.41 784.71 998.72 774.44 1000.86 764.28 C1003 754.13 1005.25 743.04 1007.12 732.33 C1008.98 721.62 1010.14 709.98 1012.06 700.05 C1013.98 690.11 1016.45 681.65 1018.65 672.71 C1020.84 663.76 1023.31 654.31 1025.24 646.35 C1027.16 638.39 1029.35 630.43 1030.18 624.94 C1031 619.45 1030.18 615.33 1030.18 613.41  L709.88 613.41 Z" fill="#fbe9f2"/>
<path d="M716.47 613.41 C716.47 615.33 718.67 621.37 716.47 624.94 C714.27 628.51 708.78 631.25 703.29 634.82 C697.8 638.39 690.12 642.78 683.53 646.35 C676.94 649.92 669.09 653.49 663.76 656.24 C658.44 658.98 653.61 661.73 651.58 662.82  C651.69 665.02 650.75 669.96 652.24 676 C653.72 682.04 656.9 691.37 660.47 699.06 C664.04 706.75 668.71 713.88 673.65 722.12 C678.59 730.35 685.62 739.41 690.12 748.47 C694.62 757.53 697.25 765.93 700.66 776.47 C704.06 787.01 707.08 801.01 710.54 811.72 C714 822.42 717.95 831.48 721.41 840.71 C724.87 849.93 728.38 859.92 731.29 867.06 C734.2 874.2 735.47 877.49 738.87 883.53 C742.27 889.57 747.27 896.27 751.72 903.29 C756.16 910.32 761.22 918.5 765.55 925.69 C769.89 932.89 773.73 940.41 777.74 946.45 C781.75 952.49 785.96 957.04 789.6 961.93 C793.24 966.82 796.11 973.62 799.59 975.76 C803.06 977.91 806.95 975.11 810.46 974.78 C813.97 974.45 817.21 976.2 820.67 973.79 C824.13 971.37 827.48 963.3 831.21 960.28 C834.95 957.26 839.34 957.98 843.07 955.67 C846.8 953.36 850.15 950.89 853.61 946.45 C857.07 942 859.49 934.75 863.82 928.99 C868.16 923.22 875.46 917.24 879.64 911.86 C883.81 906.48 885.78 901.76 888.86 896.71 C891.93 891.65 895.23 887.26 898.08 881.55 C900.94 875.84 903.08 869.15 905.99 862.45 C908.9 855.75 912.36 848.06 915.54 841.36 C918.73 834.67 921.58 828.13 925.09 822.26 C928.61 816.38 932.07 812.27 936.62 806.12 C941.18 799.97 947.38 792.34 952.44 785.36 C957.49 778.39 962.87 771.8 966.93 764.28 C970.99 756.76 974.12 747.76 976.81 740.24 C979.5 732.71 981.37 725.85 983.07 719.15 C984.77 712.45 985.76 705.59 987.02 700.05 C988.29 694.5 988.4 692.09 990.65 685.88 C992.9 679.68 996.96 669.96 1000.53 662.82 C1004.1 655.69 1009.04 649.37 1012.06 643.06 C1015.08 636.75 1017.55 629.88 1018.65 624.94 C1019.75 620 1018.65 615.33 1018.65 613.41  L716.47 613.41 Z" fill="#fad6ea"/>
<path d="M740.52 613.41 C740.52 615.44 743.43 622.31 740.52 625.6 C737.61 628.89 729.26 630.1 723.06 633.18 C716.85 636.25 710.65 639.27 703.29 644.05 C695.94 648.82 683.53 655.58 678.92 661.84 C674.31 668.09 674.85 673.91 675.62 681.6 C676.39 689.29 680.02 698.84 683.53 707.95 C687.04 717.07 691.98 726.07 696.71 736.28 C701.43 746.49 708.13 760.93 711.86 769.22 C715.59 777.51 715.87 778.94 719.11 786.02 C722.35 793.11 727.29 803.1 731.29 811.72 C735.3 820.34 738.6 829.67 743.15 837.74 C747.71 845.81 753.07 853.61 758.64 860.14 C764.2 866.67 771.35 872.22 776.53 876.94 C781.71 881.66 785.31 886.55 789.71 888.47 C794.1 890.39 797.94 888.75 802.88 888.47 C807.82 888.2 814.41 888.75 819.35 886.82 C824.29 884.9 828.14 881.33 832.53 876.94 C836.92 872.55 841.31 866.51 845.71 860.47 C850.1 854.43 854.49 848.39 858.88 840.71 C863.27 833.02 867.67 823.14 872.06 814.35 C876.45 805.57 880.84 796.78 885.24 788 C889.63 779.22 894.02 770.43 898.41 761.65 C902.8 752.86 907.2 744.08 911.59 735.29 C915.98 726.51 920.92 717.73 924.76 708.94 C928.61 700.16 930.8 690.27 934.65 682.59 C938.49 674.9 942.33 668.86 947.82 662.82 C953.31 656.78 961 651.29 967.59 646.35 C974.18 641.41 982.41 636.75 987.35 633.18 C992.29 629.61 995.59 628.24 997.24 624.94 C998.88 621.65 997.24 615.33 997.24 613.41  L740.52 613.41 Z" fill="#f3bcdd"/>
<path d="M967.59 613.41 L832.86 613.41  C832.86 615.44 838.73 622.85 832.86 625.6 C826.98 628.35 809.32 629 797.61 629.88 C785.9 630.76 772.82 629.77 762.59 630.87 C752.36 631.97 744.31 633.51 736.24 636.47 C728.16 639.44 720.97 644.1 714.16 648.66 C707.36 653.22 699.23 658.32 695.39 663.81 C691.55 669.3 690.56 674.24 691.11 681.6 C691.65 688.96 695.22 698.45 698.68 707.95 C702.14 717.45 707.08 728.38 711.86 738.59 C716.64 748.8 722.56 758.96 727.34 769.22 C732.12 779.49 736.29 792.67 740.52 800.19 C744.75 807.71 747.8 810.62 752.71 814.35 C757.61 818.09 764.32 819.57 769.94 822.59 C775.56 825.61 781.47 831.48 786.41 832.47 C791.35 833.46 795.2 829.45 799.59 828.52 C803.98 827.58 808.92 828.68 812.76 826.87 C816.61 825.06 819.35 821.93 822.65 817.65 C825.94 813.36 828.69 807.76 832.53 801.18 C836.37 794.59 841.31 785.8 845.71 778.12 C850.1 770.43 854.49 763.29 858.88 755.06 C863.27 746.82 868.22 736.94 872.06 728.71 C875.9 720.47 879.75 713.33 881.94 705.65 C884.14 697.96 884.41 689.73 885.24 682.59 C886.06 675.45 885.24 667.76 886.88 662.82 C888.53 657.88 890.45 656.24 895.12 652.94 C899.78 649.65 908.29 645.53 914.88 643.06 C921.47 640.59 928.06 640.04 934.65 638.12 C941.24 636.2 948.92 633.73 954.41 631.53 C959.9 629.33 965.39 627.96 967.59 624.94 C969.78 621.92 967.59 615.33 967.59 613.41 Z" fill="#e897c4"/>
<path d="M775.69 634.27 C765.44 634.16 757.39 634.16 749.33 635.81 C741.28 637.46 733.96 640.2 727.37 644.16 C720.78 648.11 713.54 653.31 709.8 659.53 C706.07 665.75 704.24 673.44 704.97 681.49 C705.7 689.54 710.83 699.06 714.2 707.84 C717.56 716.63 720.78 725.05 725.18 734.2 C729.57 743.35 735.79 754.88 740.55 762.75 C745.31 770.61 747.87 776.84 753.73 781.41 C759.58 785.99 768.37 789.28 775.69 790.2 C783.01 791.11 791.06 789.65 797.65 786.9 C804.24 784.16 809.73 779.58 815.22 773.73 C820.71 767.87 825.83 759.82 830.59 751.76 C835.35 743.71 840.29 733.46 843.76 725.41 C847.24 717.36 850.06 710.77 851.45 703.45 C852.84 696.13 852.66 688.81 852.11 681.49 C851.56 674.17 850.65 665.93 848.16 659.53 C845.67 653.12 843.4 646.9 837.18 643.06 C830.95 639.22 821.07 637.93 810.82 636.47 C800.58 635.01 785.93 634.38 775.69 634.27 Z" fill="#db6ca8"/>
<path d="M771.29 639.76 C762.51 639.76 751.53 639.4 744.94 640.86 C738.35 642.33 735.97 645.07 731.76 648.55 C727.56 652.03 722.25 656.24 719.69 661.73 C717.12 667.22 715.84 673.8 716.39 681.49 C716.94 689.18 720.05 699.79 722.98 707.84 C725.91 715.9 729.57 722.48 733.96 729.8 C738.35 737.12 743.48 746.82 749.33 751.76 C755.19 756.71 762.51 759.45 769.1 759.45 C775.69 759.45 782.64 755.97 788.86 751.76 C795.08 747.56 801.31 740.42 806.43 734.2 C811.56 727.97 815.76 721.02 819.61 714.43 C823.45 707.84 827.48 701.25 829.49 694.67 C831.5 688.08 831.87 680.76 831.69 674.9 C831.5 669.05 830.77 664.29 828.39 659.53 C826.01 654.77 822.54 649.46 817.41 646.35 C812.29 643.24 805.33 641.96 797.65 640.86 C789.96 639.76 780.08 639.76 771.29 639.76 Z" fill="#cb3289"/>
<path d="M771.29 645.25 C765.44 645.88 755.92 646.9 749.33 649.65 C742.75 652.39 735.42 656.42 731.76 661.73 C728.1 667.03 727.01 674.54 727.37 681.49 C727.74 688.44 731.03 696.5 733.96 703.45 C736.89 710.41 740.18 717.73 744.94 723.22 C749.7 728.71 757.39 734.2 762.51 736.39 C767.63 738.59 770.56 738.22 775.69 736.39 C780.81 734.56 788.13 730.17 793.25 725.41 C798.38 720.65 802.95 714.43 806.43 707.84 C809.91 701.25 813.39 693.2 814.12 685.88 C814.85 678.56 813.57 669.78 810.82 663.92 C808.08 658.07 802.04 653.75 797.65 650.75 C793.25 647.74 788.86 646.83 784.47 645.91 C780.08 645 777.15 644.63 771.29 645.25 Z" fill="#b1116d"/>
<path d="M762.51 661.73 L775.69 661.73  L787.11 682.59  C785.2 684.97 778.69 694.19 775.69 696.86 C772.68 699.53 771.66 698.99 769.1 698.62 C766.54 698.25 763.42 697.34 760.31 694.67 C757.2 691.99 752.08 684.6 750.43 682.59  L762.51 661.73 Z" fill="#8e0152"/>
<path d="M579.76 1008.71 L489.18 1008.71  C489.18 1006.51 488.9 1000.47 489.18 995.53 C489.45 990.59 489.45 985.1 490.82 979.06 C492.2 973.02 494.39 966.43 497.41 959.29 C500.43 952.16 504.82 943.92 508.94 936.24 C513.06 928.55 517.73 920.86 522.12 913.18 C526.51 905.49 531.56 895.61 535.29 890.12 C539.03 884.63 542.05 880.24 544.52 880.24 C546.99 880.24 548.36 885.18 550.12 890.12 C551.87 895.06 553.14 903.29 555.06 909.88 C556.98 916.47 559.18 923.06 561.65 929.65 C564.12 936.24 567.8 942.82 569.88 949.41 C571.97 956 572.79 962.59 574.16 969.18 C575.54 975.76 577.18 984.55 578.12 988.94 C579.05 993.33 579.49 992.24 579.76 995.53 C580.04 998.82 579.76 1006.51 579.76 1008.71 Z" fill="#ecf6de"/>
<path d="M737.88 1008.71 L625.88 1008.71  C625.88 1006.51 626.71 1000.47 625.88 995.53 C625.06 990.59 622.31 985.1 620.94 979.06 C619.57 973.02 618.36 966.98 617.65 959.29 C616.93 951.61 617.21 942.27 616.66 932.94 C616.11 923.61 615.18 912.63 614.35 903.29 C613.53 893.96 611.99 885.73 611.72 876.94 C611.44 868.16 611.44 859.37 612.71 850.59 C613.97 841.8 616.82 833.02 619.29 824.24 C621.76 815.45 624.51 805.57 627.53 797.88 C630.55 790.2 633.57 782.4 637.41 778.12 C641.25 773.84 646.2 772.19 650.59 772.19 C654.98 772.19 660.2 773.84 663.76 778.12 C667.33 782.4 669.8 790.2 672 797.88 C674.2 805.57 675.02 815.45 676.94 824.24 C678.86 833.02 681.33 841.8 683.53 850.59 C685.73 859.37 687.37 868.71 690.12 876.94 C692.86 885.18 696.16 892.31 700 900 C703.84 907.69 708.78 915.37 713.18 923.06 C717.57 930.75 722.78 938.43 726.35 946.12 C729.92 953.8 732.67 962.59 734.59 969.18 C736.51 975.76 737.33 981.25 737.88 985.65 C738.43 990.04 737.88 991.69 737.88 995.53 C737.88 999.37 737.88 1006.51 737.88 1008.71 Z" fill="#ecf6de"/>
<path d="M716.47 1008.71 L657.84 1008.71  C657.84 1006.51 658.05 999.37 657.84 995.53 C657.62 991.69 657.18 990.04 656.52 985.65 C655.86 981.25 655.42 975.22 653.88 969.18 C652.35 963.14 649.49 956 647.29 949.41 C645.1 942.82 642.35 936.78 640.71 929.65 C639.06 922.51 637.8 914.82 637.41 906.59 C637.03 898.35 637.3 888.47 638.4 880.24 C639.5 872 641.69 862.56 644 857.18 C646.31 851.8 649.76 848.5 652.24 847.95 C654.71 847.4 656.63 849.6 658.82 853.88 C661.02 858.16 662.94 867.06 665.41 873.65 C667.88 880.24 670.08 886.82 673.65 893.41 C677.22 900 682.43 907.14 686.82 913.18 C691.22 919.22 695.88 923.61 700 929.65 C704.12 935.69 708.78 942.82 711.53 949.41 C714.27 956 715.48 963.14 716.47 969.18 C717.46 975.22 717.46 981.25 717.46 985.65 C717.46 990.04 716.64 991.69 716.47 995.53 C716.31 999.37 716.47 1006.51 716.47 1008.71 Z" fill="#d9f0bc"/>
<path d="M205 871.8 C206.83 871.8 213.12 872.07 216 871.8 C218.88 871.53 220.35 871.52 222.3 870.2 C224.25 868.88 224.97 863.52 227.7 863.9 C230.43 864.28 236.22 869.23 238.7 872.5 C241.18 875.77 241.42 879.05 242.6 883.5 C243.78 887.95 244.88 892.67 245.8 899.2 C246.72 905.73 247.45 914.6 248.1 922.7 C248.75 930.8 249.43 938.9 249.7 947.8 C249.97 956.7 250.35 969.55 249.7 976.1 C249.05 982.65 246.85 984.1 245.8 987.1 C244.75 990.1 243.87 991.12 243.4 994.1 C242.93 997.08 243.07 1003.18 243 1005  L205 1005  L205 871.8 Z" fill="#ecf6de"/>
<path d="M226.5 876.5 C226.67 876.42 226.25 874.97 227.5 876 C228.75 877.03 232.52 879.62 234 882.7 C235.48 885.78 235.35 889.65 236.4 894.5 C237.45 899.35 239.38 905.78 240.3 911.8 C241.22 917.82 241.52 924.07 241.9 930.6 C242.28 937.13 242.48 944.98 242.6 951 C242.72 957.02 242.85 961.47 242.6 966.7 C242.35 971.93 241.75 977.97 241.1 982.4 C240.45 986.83 239.13 989.53 238.7 993.3 C238.27 997.07 238.53 1003.05 238.5 1005  L226.5 1005  L226.5 876.5 Z" fill="#d9f0bc"/>
<path d="M281.1 914.1 C281.88 913.57 282.35 918.9 283.4 922.7 C284.45 926.5 286.73 932.72 287.4 936.9 C288.07 941.08 287.67 943.88 287.4 947.8 C287.13 951.72 285.93 956.22 285.8 960.4 C285.67 964.58 286.6 970.15 286.6 972.9 C286.6 975.65 286.47 978.98 285.8 976.9 C285.13 974.82 283.78 966.82 282.6 960.4 C281.42 953.98 279.35 944.15 278.7 938.4 C278.05 932.65 278.3 929.95 278.7 925.9 C279.1 921.85 280.32 914.63 281.1 914.1 Z" fill="#ecf6de"/>
<path d="M205 878.8 L227 878.8 L228.5 896.1 L232.5 907.1 L234 922.7 L235.6 941.6 L236.4 962 L238.7 982.4 L238.7 1005 L205 1005 Z" fill="#ffffff"/>
<path d="M276.4 997 L277.5 981.6 L278.7 997 Z" fill="#ffffff"/>
<path d="M282.6 997 L285.3 976.9 L289.7 997 Z" fill="#ffffff"/>
<path d="M290.5 997 L292.8 976.9 L296.8 997 Z" fill="#ffffff"/>
</g>
<path d="M215.6 996.43 v7.29 M352.98 996.43 v7.29 M490.37 996.43 v7.29 M627.75 996.43 v7.29 M765.13 996.43 v7.29 M902.51 996.43 v7.29 M1039.89 996.43 v7.29 M215.6 623.87 h-7.29 M215.6 643.47 h-7.29 M215.6 682.69 h-7.29 M215.6 721.91 h-7.29 M215.6 761.13 h-7.29 M215.6 800.35 h-7.29 M215.6 839.56 h-7.29 M215.6 878.78 h-7.29 M215.6 918 h-7.29 M215.6 957.22 h-7.29 M215.6 996.43 h-7.29" stroke="#000" stroke-width="2.08" fill="none"/>
<rect x="215.6" y="623.87" width="824.29" height="372.57" fill="none" stroke="#000" stroke-width="1.67"/>
<g clip-path="url(#c2)" shape-rendering="crispEdges">
<rect x="215.6" y="1093.95" width="824.29" height="372.57" fill="#ffffff"/>
<path d="M261.06 1083.41 C261.06 1085.33 258.59 1090.55 261.06 1094.94 C263.53 1099.33 270.67 1104 275.88 1109.76 C281.1 1115.53 287.41 1122.39 292.35 1129.53 C297.29 1136.67 302.51 1142.71 305.53 1152.59 C308.55 1162.47 309.1 1174.55 310.47 1188.82 C311.84 1203.1 312.67 1221.76 313.76 1238.24 C314.86 1254.71 315.96 1271.18 317.06 1287.65 C318.16 1304.12 319.25 1320.59 320.35 1337.06 C321.45 1353.53 322.82 1372.75 323.65 1386.47 C324.47 1400.2 325.02 1409.36 325.29 1419.41 C325.57 1429.46 325.29 1441.26 325.29 1446.75 C325.29 1452.24 325.29 1451.42 325.29 1452.35  L378 1452.35  C378 1451.42 377.18 1452.24 378 1446.75 C378.82 1441.26 381.02 1432.2 382.94 1419.41 C384.86 1406.62 387.88 1386.47 389.53 1370 C391.18 1353.53 392.27 1337.06 392.82 1320.59 C393.37 1304.12 393.1 1287.65 392.82 1271.18 C392.55 1254.71 392.27 1235.49 391.18 1221.76 C390.08 1208.04 387.88 1200.35 386.24 1188.82 C384.59 1177.29 380.75 1162.47 381.29 1152.59 C381.84 1142.71 386.07 1136.12 389.53 1129.53 C392.99 1122.94 399.96 1115.8 402.05 1113.06  C400.78 1110.04 395.73 1099.88 394.47 1094.94 C393.21 1090 394.47 1085.33 394.47 1083.41  L261.06 1083.41 Z" fill="#dbe1ff"/>
<path d="M295.65 1083.41 C295.65 1085.33 294 1088.35 295.65 1094.94 C297.29 1101.53 302.24 1113.33 305.53 1122.94 C308.82 1132.55 312.94 1141.61 315.41 1152.59 C317.88 1163.57 318.98 1174.55 320.35 1188.82 C321.73 1203.1 322.55 1221.76 323.65 1238.24 C324.75 1254.71 325.84 1271.18 326.94 1287.65 C328.04 1304.12 329.3 1320.59 330.24 1337.06 C331.17 1353.53 331.99 1368.19 332.54 1386.47 C333.09 1404.75 333.36 1435.77 333.53 1446.75 C333.69 1457.73 333.53 1451.42 333.53 1452.35  L368.12 1452.35  C368.12 1451.42 367.57 1454.99 368.12 1446.75 C368.67 1438.52 369.76 1418.48 371.41 1402.94 C373.06 1387.4 375.8 1370 378 1353.53 C380.2 1337.06 382.67 1320.59 384.59 1304.12 C386.51 1287.65 388.98 1269.53 389.53 1254.71 C390.08 1239.88 388.98 1227.25 387.88 1215.18 C386.78 1203.1 384.59 1192.67 382.94 1182.24 C381.29 1171.8 378 1161.37 378 1152.59 C378 1143.8 381.02 1136.12 382.94 1129.53 C384.86 1122.94 388.43 1115.8 389.53 1113.06  C388.16 1110.86 383.22 1102.9 381.29 1099.88 C379.37 1096.86 378.55 1097.69 378 1094.94 C377.45 1092.2 378 1085.33 378 1083.41  L295.65 1083.41 Z" fill="#b6c4ff"/>
<path d="M318.71 1108.12 C318.98 1111.69 319.25 1121.57 320.35 1129.53 C321.45 1137.49 323.92 1146 325.29 1155.88 C326.67 1165.76 327.49 1175.1 328.59 1188.82 C329.69 1202.55 330.51 1221.76 331.88 1238.24 C333.25 1254.71 335.18 1271.18 336.82 1287.65 C338.47 1304.12 339.84 1322.78 341.76 1337.06 C343.69 1351.33 346.82 1366.16 348.35 1373.29 C349.89 1380.43 350.55 1378.78 350.99 1379.88  C352.2 1377.69 355.93 1373.84 358.24 1366.71 C360.54 1359.57 362.63 1347.49 364.82 1337.06 C367.02 1326.63 369.22 1316.75 371.41 1304.12 C373.61 1291.49 376.08 1273.92 378 1261.29 C379.92 1248.67 382.39 1239.33 382.94 1228.35 C383.49 1217.37 382.67 1205.84 381.29 1195.41 C379.92 1184.98 376.35 1175.1 374.71 1165.76 C373.06 1156.43 371.58 1148.2 371.41 1139.41 C371.25 1130.63 373.33 1117.45 373.72 1113.06  C371.69 1111.3 366.85 1104.55 361.53 1102.52 C356.2 1100.49 348.9 1099.94 341.76 1100.87 C334.63 1101.8 322.55 1106.91 318.71 1108.12 Z" fill="#92a6ff"/>
<path d="M347.69 1126.24 C346.71 1129.53 344.13 1139.96 341.76 1146 C339.4 1152.04 335.29 1155.33 333.53 1162.47 C331.77 1169.61 330.95 1178.94 331.22 1188.82 C331.5 1198.71 333.42 1210.78 335.18 1221.76 C336.93 1232.75 339.29 1244.27 341.76 1254.71 C344.24 1265.14 347.8 1278.7 350 1284.35 C352.2 1290.01 353.02 1288.64 354.94 1288.64 C356.86 1288.64 359.33 1290.01 361.53 1284.35 C363.73 1278.7 365.92 1264.04 368.12 1254.71 C370.31 1245.37 373.06 1237.69 374.71 1228.35 C376.35 1219.02 378 1207.49 378 1198.71 C378 1189.92 376.9 1182.78 374.71 1175.65 C372.51 1168.51 367.84 1161.92 364.82 1155.88 C361.8 1149.84 359.44 1144.35 356.59 1139.41 C353.73 1134.47 349.18 1128.43 347.69 1126.24 Z" fill="#6d88ff"/>
<path d="M351.65 1165.76 C348.35 1166.59 345.33 1171.25 343.41 1175.65 C341.49 1180.04 340.12 1186.08 340.12 1192.12 C340.12 1198.16 341.49 1205.29 343.41 1211.88 C345.33 1218.47 348.9 1227.42 351.65 1231.65 C354.39 1235.87 357.41 1238.35 359.88 1237.25 C362.35 1236.15 364.66 1230.93 366.47 1225.06 C368.28 1219.18 370.2 1208.59 370.75 1202 C371.3 1195.41 371.03 1190.75 369.76 1185.53 C368.5 1180.31 366.2 1174 363.18 1170.71 C360.16 1167.41 354.94 1164.94 351.65 1165.76 Z" fill="#496aff"/>
<path d="M407.65 1478.71 L485.06 1478.71  C485.06 1476.51 485.77 1470.85 485.06 1465.53 C484.35 1460.2 481.6 1454.44 480.78 1446.75 C479.95 1439.07 480.5 1432.2 480.12 1419.41 C479.73 1406.62 479.29 1386.47 478.47 1370 C477.65 1353.53 476.27 1337.06 475.18 1320.59 C474.08 1304.12 472.98 1287.65 471.88 1271.18 C470.78 1254.71 469.41 1236.59 468.59 1221.76 C467.76 1206.94 467.49 1193.76 466.94 1182.24 C466.39 1170.71 465.13 1160.82 465.29 1152.59 C465.46 1144.35 468.75 1138.59 467.93 1132.82 C467.11 1127.06 464.91 1121.84 460.35 1118 C455.8 1114.16 447.18 1110.04 440.59 1109.76 C434 1109.49 426.86 1113.06 420.82 1116.35 C414.78 1119.65 408.75 1123.49 404.35 1129.53 C399.96 1135.57 395.29 1143.8 394.47 1152.59 C393.65 1161.37 397.76 1170.71 399.41 1182.24 C401.06 1193.76 402.98 1206.94 404.35 1221.76 C405.73 1236.59 406.82 1254.71 407.65 1271.18 C408.47 1287.65 409.29 1304.12 409.29 1320.59 C409.29 1337.06 408.47 1354.63 407.65 1370 C406.82 1385.37 405.73 1400.03 404.35 1412.82 C402.98 1425.62 398.86 1437.97 399.41 1446.75 C399.96 1455.54 406.27 1460.2 407.65 1465.53 C409.02 1470.85 407.65 1476.51 407.65 1478.71 Z" fill="#ffe0db"/>
<path d="M417.53 1478.71 L462 1478.71  C462 1476.51 462.16 1470.85 462 1465.53 C461.84 1460.2 461.01 1457.18 461.01 1446.75 C461.01 1436.32 461.67 1418.48 462 1402.94 C462.33 1387.4 462.71 1370 462.99 1353.53 C463.26 1337.06 463.65 1320.59 463.65 1304.12 C463.65 1287.65 463.26 1271.18 462.99 1254.71 C462.71 1238.24 462.33 1219.02 462 1205.29 C461.67 1191.57 461.01 1184.43 461.01 1172.35 C461.01 1160.27 462.93 1141.33 462 1132.82 C461.07 1124.31 458.98 1124.04 455.41 1121.29 C451.84 1118.55 447.45 1114.98 440.59 1116.35 C433.73 1117.73 420.55 1123.49 414.24 1129.53 C407.92 1135.57 403.8 1142.71 402.71 1152.59 C401.61 1162.47 406 1174.55 407.65 1188.82 C409.29 1203.1 411.22 1221.76 412.59 1238.24 C413.96 1254.71 415.06 1271.18 415.88 1287.65 C416.71 1304.12 417.53 1320.59 417.53 1337.06 C417.53 1353.53 416.71 1371.65 415.88 1386.47 C415.06 1401.29 413.41 1415.95 412.59 1426 C411.76 1436.05 410.12 1440.16 410.94 1446.75 C411.76 1453.34 416.43 1460.2 417.53 1465.53 C418.63 1470.85 417.53 1476.51 417.53 1478.71 Z" fill="#ffc2b6"/>
<path d="M442.24 1370 C443.33 1367.25 446.63 1364.51 448.82 1353.53 C451.02 1342.55 453.93 1320.59 455.41 1304.12 C456.89 1287.65 457.44 1271.18 457.72 1254.71 C457.99 1238.24 457.44 1219.02 457.06 1205.29 C456.67 1191.57 455.41 1183.88 455.41 1172.35 C455.41 1160.82 457.88 1143.91 457.06 1136.12 C456.24 1128.32 453.76 1127.77 450.47 1125.58 C447.18 1123.38 442.78 1121.73 437.29 1122.94 C431.8 1124.15 422.47 1127.88 417.53 1132.82 C412.59 1137.76 408.47 1144.35 407.65 1152.59 C406.82 1160.82 410.94 1170.71 412.59 1182.24 C414.24 1193.76 415.61 1206.94 417.53 1221.76 C419.45 1236.59 422.2 1254.71 424.12 1271.18 C426.04 1287.65 427.41 1306.86 429.06 1320.59 C430.71 1334.31 431.8 1345.29 434 1353.53 C436.2 1361.76 440.86 1367.25 442.24 1370 Z" fill="#ffa392"/>
<path d="M440.59 1257.01 C441.41 1254.98 444.16 1251.8 445.53 1244.82 C446.9 1237.85 448.11 1225.61 448.82 1215.18 C449.54 1204.75 449.98 1192.12 449.81 1182.24 C449.65 1172.35 448.27 1164.12 447.84 1155.88 C447.4 1147.65 449.48 1137.11 447.18 1132.82 C444.87 1128.54 438.39 1129.09 434 1130.19 C429.61 1131.29 424.5 1135.68 420.82 1139.41 C417.15 1143.15 412.48 1146 411.93 1152.59 C411.38 1159.18 415.5 1169.06 417.53 1178.94 C419.56 1188.82 421.65 1201.45 424.12 1211.88 C426.59 1222.31 429.61 1234.01 432.35 1241.53 C435.1 1249.05 439.22 1254.43 440.59 1257.01 Z" fill="#ff856d"/>
<path d="M432.35 1181.58 C433.18 1180.31 435.65 1178.28 437.29 1174 C438.94 1169.72 441.96 1160.55 442.24 1155.88 C442.51 1151.22 440.86 1148.2 438.94 1146 C437.02 1143.8 433.73 1142.43 430.71 1142.71 C427.69 1142.98 423.13 1145.73 420.82 1147.65 C418.52 1149.57 416.32 1150.39 416.87 1154.24 C417.42 1158.08 421.54 1166.15 424.12 1170.71 C426.7 1175.26 430.98 1179.76 432.35 1181.58 Z" fill="#ff6649"/>
<path d="M455.41 1083.41 C455.41 1085.39 453.65 1092.47 455.41 1095.27 C457.17 1098.07 462.77 1098.24 465.95 1100.21 C469.14 1102.19 472.27 1105.1 474.52 1107.13 C476.77 1109.16 479.02 1108.06 479.46 1112.4 C479.9 1116.74 477.76 1126.84 477.15 1133.15 C476.55 1139.47 475.56 1144.52 475.84 1150.28 C476.11 1156.05 477.59 1161.37 478.8 1167.74 C480.01 1174.11 481.65 1181.3 483.08 1188.49 C484.51 1195.69 485.77 1202.05 487.36 1210.89 C488.96 1219.73 490.55 1229.84 492.64 1241.53 C494.72 1253.22 497.58 1268.43 499.88 1281.06 C502.19 1293.69 503.18 1305.49 506.47 1317.29 C509.76 1329.1 517.45 1346.12 519.65 1351.88  C521.02 1350.51 525.14 1348.86 527.88 1343.65 C530.63 1338.43 533.65 1329.92 536.12 1320.59 C538.59 1311.25 540.78 1299.73 542.71 1287.65 C544.63 1275.57 546 1261.84 547.65 1248.12 C549.29 1234.39 551.33 1218.69 552.59 1205.29 C553.85 1191.9 554.56 1178.34 555.22 1167.74 C555.88 1157.15 555.88 1149.51 556.54 1141.72 C557.2 1133.92 558.46 1125.85 559.18 1120.96 C559.89 1116.08 560.55 1113.83 560.82 1112.4  C561.98 1111.52 564.89 1108.39 567.74 1107.13 C570.6 1105.87 573.34 1105.37 577.95 1104.82 C582.56 1104.27 589.65 1104.16 595.41 1103.84 C601.18 1103.51 606.78 1103.29 612.54 1102.85 C618.31 1102.41 625.11 1101.91 630 1101.2 C634.89 1100.49 638.73 1099.55 641.86 1098.56 C644.99 1097.58 647.62 1097.8 648.78 1095.27 C649.93 1092.75 648.78 1085.39 648.78 1083.41  L455.41 1083.41 Z" fill="#dbe1ff"/>
<path d="M474.52 1083.41 C474.52 1085.39 473.36 1092.14 474.52 1095.27 C475.67 1098.4 478.85 1099.33 481.44 1102.19 C484.02 1105.04 489.12 1107.24 490 1112.4 C490.88 1117.56 488.13 1126.84 486.71 1133.15 C485.28 1139.47 481.87 1144.52 481.44 1150.28 C481 1156.05 482.64 1161.37 484.07 1167.74 C485.5 1174.11 488.13 1181.3 490 1188.49 C491.87 1195.69 493.07 1203.15 495.27 1210.89 C497.47 1218.64 500.49 1227.09 503.18 1234.94 C505.87 1242.79 508.78 1251.96 511.41 1258 C514.05 1264.04 517.73 1268.98 518.99 1271.18  C520.2 1269.25 523.65 1265.69 526.24 1259.65 C528.82 1253.61 531.29 1244.49 534.47 1234.94 C537.65 1225.39 543.53 1212.1 545.34 1202.33 C547.15 1192.56 545.07 1184.98 545.34 1176.31 C545.62 1167.63 546.44 1158.9 546.99 1150.28 C547.54 1141.66 548.2 1130.9 548.64 1124.59 C549.07 1118.27 549.46 1114.43 549.62 1112.4  C550.94 1111.41 553.96 1108.17 557.53 1106.47 C561.1 1104.77 566.15 1103.23 571.04 1102.19 C575.92 1101.15 581.36 1100.65 586.85 1100.21 C592.34 1099.77 598.27 1099.88 603.98 1099.55 C609.69 1099.22 616.22 1098.95 621.11 1098.24 C625.99 1097.52 631.26 1097.74 633.29 1095.27 C635.33 1092.8 633.29 1085.39 633.29 1083.41  L474.52 1083.41 Z" fill="#b6c4ff"/>
<path d="M491.65 1083.41 C491.65 1085.39 490.49 1091.59 491.65 1095.27 C492.8 1098.95 496.64 1102.63 498.56 1105.48 C500.49 1108.34 503.45 1108.67 503.18 1112.4 C502.9 1116.13 498.67 1121.57 496.92 1127.88 C495.16 1134.2 492.64 1143.09 492.64 1150.28 C492.64 1157.47 495.05 1164.39 496.92 1171.04 C498.78 1177.68 501.8 1183.83 503.84 1190.14 C505.87 1196.45 506.8 1202.99 509.11 1208.92 C511.41 1214.85 516.24 1222.92 517.67 1225.72  C518.55 1224.73 520.91 1223.69 522.94 1219.79 C524.97 1215.89 527.88 1208.15 529.86 1202.33 C531.84 1196.51 533.37 1192.06 534.8 1184.87 C536.23 1177.68 537.98 1167.8 538.42 1159.18 C538.86 1150.56 537.87 1140.78 537.44 1133.15 C537 1125.52 536.06 1116.68 535.79 1113.39  C537.11 1112.07 540.07 1107.68 543.69 1105.48 C547.32 1103.29 552.97 1101.47 557.53 1100.21 C562.09 1098.95 566.75 1098.73 571.04 1097.91 C575.32 1097.08 581.19 1097.69 583.22 1095.27 C585.25 1092.85 583.22 1085.39 583.22 1083.41  L491.65 1083.41 Z" fill="#92a6ff"/>
<path d="M516.02 1122.94 C519.21 1122.94 520.96 1124.26 522.94 1126.24 C524.92 1128.21 526.62 1130.46 527.88 1134.8 C529.15 1139.14 530.52 1146.77 530.52 1152.26 C530.52 1157.75 529.15 1162.58 527.88 1167.74 C526.62 1172.9 524.92 1179.65 522.94 1183.22 C520.96 1186.79 518.33 1188.6 516.02 1189.15 C513.72 1189.7 511.41 1188.93 509.11 1186.52 C506.8 1184.1 504.49 1179.22 502.19 1174.66 C499.88 1170.1 496.75 1163.24 495.27 1159.18 C493.79 1155.11 493.02 1153.74 493.29 1150.28 C493.57 1146.82 495.16 1142.43 496.92 1138.42 C498.67 1134.42 500.65 1128.82 503.84 1126.24 C507.02 1123.65 512.84 1122.94 516.02 1122.94 Z" fill="#6d88ff"/>
<path d="M516.02 1083.41 C516.02 1085.39 514.87 1092.96 516.02 1095.27 C517.18 1097.58 520.09 1096.92 522.94 1097.25 C525.8 1097.58 530.3 1097.58 533.15 1097.25 C536.01 1096.92 538.92 1097.58 540.07 1095.27 C541.22 1092.96 540.07 1085.39 540.07 1083.41  L516.02 1083.41 Z" fill="#6d88ff"/>
<path d="M509.76 1147.98 L516.68 1152.92 L509.76 1159.18 L503.84 1152.92 Z" fill="#496aff"/>
<path d="M228.12 1162.47 C232.24 1160.99 241.57 1160.44 249.53 1160.16 C257.49 1159.89 269.4 1158.79 275.88 1160.82 C282.36 1162.85 286.48 1162.2 288.4 1172.35 C290.32 1182.51 287.41 1206.94 287.41 1221.76 C287.41 1236.59 287.03 1250.31 288.4 1261.29 C289.77 1272.27 293.07 1277.76 295.65 1287.65 C298.23 1297.53 302.35 1311.8 303.88 1320.59 C305.42 1329.37 305.42 1334.86 304.87 1340.35 C304.32 1345.84 302.13 1352.98 300.59 1353.53 C299.05 1354.08 297.57 1348.04 295.65 1343.65 C293.73 1339.25 291.53 1331.02 289.06 1327.18 C286.59 1323.33 283.29 1324.43 280.82 1320.59 C278.35 1316.75 275.88 1310.71 274.24 1304.12 C272.59 1297.53 272.31 1286.82 270.94 1281.06 C269.57 1275.29 268.2 1272.27 266 1269.53 C263.8 1266.78 260.51 1264.59 257.76 1264.59 C255.02 1264.59 252.27 1266.78 249.53 1269.53 C246.78 1272.27 244.31 1277.22 241.29 1281.06 C238.27 1284.9 234.16 1295.88 231.41 1292.59 C228.67 1289.29 226.47 1273.1 224.82 1261.29 C223.18 1249.49 221.91 1233.84 221.53 1221.76 C221.15 1209.69 221.97 1197.61 222.52 1188.82 C223.07 1180.04 223.89 1173.45 224.82 1169.06 C225.76 1164.67 224 1163.95 228.12 1162.47 Z" fill="#ffe0db"/>
<path d="M244.59 1446.75 L258.75 1446.75  C258.04 1442.2 255.73 1429.46 254.47 1419.41 C253.21 1409.36 252.27 1397.45 251.18 1386.47 C250.08 1375.49 249.25 1362.86 247.88 1353.53 C246.51 1344.2 244.59 1336.24 242.94 1330.47 C241.29 1324.71 239.76 1321.41 238 1318.94 C236.24 1316.47 234.6 1314.27 232.4 1315.65 C230.2 1317.02 226.64 1321.96 224.82 1327.18 C223.01 1332.39 220.98 1343.1 221.53 1346.94 C222.08 1350.78 226.75 1346.39 228.12 1350.24 C229.49 1354.08 228.67 1362.31 229.76 1370 C230.86 1377.69 233.06 1387.02 234.71 1396.35 C236.35 1405.69 238 1417.6 239.65 1426 C241.29 1434.4 243.76 1443.29 244.59 1446.75 Z" fill="#ffe0db"/>
<path d="M232.4 1337.06 C230.75 1338.43 226.64 1343.1 226.47 1348.59 C226.31 1354.08 229.76 1360.94 231.41 1370 C233.06 1379.06 234.71 1392.51 236.35 1402.94 C238 1413.37 239.54 1425.29 241.29 1432.59 C243.05 1439.89 246.18 1448.95 246.89 1446.75 C247.61 1444.56 246.24 1429.46 245.58 1419.41 C244.92 1409.36 243.93 1397.45 242.94 1386.47 C241.95 1375.49 240.75 1361.22 239.65 1353.53 C238.55 1345.84 237.56 1343.1 236.35 1340.35 C235.15 1337.61 234.05 1335.69 232.4 1337.06 Z" fill="#ffc2b6"/>
<path d="M230.42 1346.94 C230.59 1350.51 233.28 1360.67 234.71 1370 C236.13 1379.33 237.89 1392.51 238.99 1402.94 C240.09 1413.37 240.64 1430.94 241.29 1432.59 C241.95 1434.24 243.11 1420.51 242.94 1412.82 C242.78 1405.14 241.4 1395.25 240.31 1386.47 C239.21 1377.69 237.45 1366.43 236.35 1360.12 C235.25 1353.8 234.71 1350.78 233.72 1348.59 C232.73 1346.39 230.26 1343.37 230.42 1346.94 Z" fill="#ffa392"/>
<path d="M231.41 1366.71 C231.69 1370 234.98 1384.27 236.35 1393.06 C237.73 1401.84 239.37 1418.86 239.65 1419.41 C239.92 1419.96 238.82 1404.04 238 1396.35 C237.18 1388.67 235.8 1378.24 234.71 1373.29 C233.61 1368.35 231.14 1363.41 231.41 1366.71 Z" fill="#ff856d"/>
<path d="M280.82 1368.35 C279.84 1367.8 276.71 1375.76 275.88 1379.88 C275.06 1384 275.06 1388.12 275.88 1393.06 C276.71 1398 279.62 1408.43 280.82 1409.53 C282.03 1410.63 282.96 1404.04 283.13 1399.65 C283.29 1395.25 282.2 1388.39 281.81 1383.18 C281.43 1377.96 281.81 1368.9 280.82 1368.35 Z" fill="#ffe0db"/>
<path d="M584.71 1112.4 C587.23 1112.18 594.7 1111.69 599.86 1111.08 C605.02 1110.48 610.4 1109.44 615.67 1108.78 C620.94 1108.12 626.76 1107.9 631.48 1107.13 C636.2 1106.36 640.38 1105.59 644 1104.16 C647.62 1102.74 650.64 1099.99 653.22 1098.56 C655.8 1097.14 657.89 1098.13 659.48 1095.6 C661.07 1093.07 662.23 1085.44 662.78 1083.41  L734.92 1083.41  C734.92 1085.44 732.83 1092.14 734.92 1095.6 C737 1099.06 744.03 1101.2 747.44 1104.16 C750.84 1107.13 753.25 1109.22 755.34 1113.39 C757.43 1117.56 758.64 1123.93 759.95 1129.2 C761.27 1134.47 761.82 1140.29 763.25 1145.01 C764.67 1149.73 766.21 1153.63 768.52 1157.53 C770.82 1161.43 774.06 1165 777.08 1168.4 C780.1 1171.8 784.11 1174.82 786.64 1177.95 C789.16 1181.08 790.92 1183.55 792.24 1187.18 C793.55 1190.8 794.1 1192.83 794.54 1199.69 C794.98 1206.56 794.43 1216.44 794.87 1228.35 C795.31 1240.27 796.24 1258.55 797.18 1271.18 C798.11 1283.8 799.65 1293.14 800.47 1304.12 C801.29 1315.1 801.95 1326.08 802.12 1337.06 C802.28 1348.04 801.46 1359.02 801.46 1370 C801.46 1380.98 803.11 1393.06 802.12 1402.94 C801.13 1412.82 797.45 1421.99 795.53 1429.29 C793.61 1436.6 790.31 1440.71 790.59 1446.75 C790.86 1452.79 796.08 1460.2 797.18 1465.53 C798.27 1470.85 797.18 1476.51 797.18 1478.71  L760.94 1478.71  C760.94 1476.51 760.39 1471.02 760.94 1465.53 C761.49 1460.04 763.96 1451.8 764.24 1445.76 C764.51 1439.73 764.51 1434.78 762.59 1429.29 C760.67 1423.8 756 1418.86 752.71 1412.82 C749.41 1406.78 746.12 1399.65 742.82 1393.06 C739.53 1386.47 736.24 1379.88 732.94 1373.29 C729.65 1366.71 726.9 1358.47 723.06 1353.53 C719.22 1348.59 714.27 1346.39 709.88 1343.65 C705.49 1340.9 701.1 1340.35 696.71 1337.06 C692.31 1333.76 686.55 1327.73 683.53 1323.88 C680.51 1320.04 681.88 1316.47 678.59 1314 C675.29 1311.53 668.71 1308.62 663.76 1309.06 C658.82 1309.5 651.41 1315.37 648.94 1316.64  C647.02 1314 640.43 1306.2 637.41 1300.82 C634.39 1295.44 634.12 1290.39 630.82 1284.35 C627.53 1278.31 622.04 1271.18 617.65 1264.59 C613.25 1258 608.04 1251.41 604.47 1244.82 C600.9 1238.24 598.21 1230.71 596.24 1225.06 C594.26 1219.4 593.49 1216.16 592.61 1210.89 C591.73 1205.62 591.35 1199.47 590.96 1193.44 C590.58 1187.4 590.14 1178.94 590.31 1174.66 C590.47 1170.38 591.68 1168.89 591.95 1167.74  C593.65 1167.14 599.04 1164.01 602.16 1164.12 C605.29 1164.23 607 1167.69 610.73 1168.4 C614.46 1169.11 621.38 1169.11 624.56 1168.4 C627.75 1167.69 627.25 1165.38 629.84 1164.12 C632.42 1162.85 637.74 1162.8 640.05 1160.82 C642.35 1158.85 643.67 1155.17 643.67 1152.26 C643.67 1149.35 642.63 1146 640.05 1143.36 C637.47 1140.73 631.04 1138.64 628.19 1136.45 C625.33 1134.25 626.65 1130.9 622.92 1130.19 C619.18 1129.47 609.25 1130.85 605.79 1132.16 C602.33 1133.48 605.07 1137.38 602.16 1138.09 C599.25 1138.81 590.64 1136.72 588.33 1136.45  C587.89 1134.47 586.3 1128.6 585.69 1124.59 C585.09 1120.58 584.87 1114.43 584.71 1112.4 Z" fill="#ffe0db"/>
<path d="M632.14 1113.39 C633.29 1113 636.59 1112.13 639.06 1111.08 C641.53 1110.04 644.6 1108.56 646.96 1107.13 C649.33 1105.7 650.86 1104.05 653.22 1102.52 C655.58 1100.98 659.04 1099.06 661.13 1097.91 C663.22 1096.75 659.26 1095.98 665.74 1095.6 C672.22 1095.22 690.06 1095.49 700 1095.6 C709.94 1095.71 718.78 1095.6 725.36 1096.26 C731.95 1096.92 735.58 1097.74 739.53 1099.55 C743.48 1101.36 746.61 1104.27 749.08 1107.13 C751.55 1109.98 752.93 1112.73 754.35 1116.68 C755.78 1120.64 756.71 1125.91 757.65 1130.85 C758.58 1135.79 759.02 1141.61 759.95 1146.33 C760.89 1151.05 761.16 1154.95 763.25 1159.18 C765.33 1163.4 769.34 1167.52 772.47 1171.69 C775.6 1175.87 779.66 1180.04 782.02 1184.21 C784.38 1188.38 785.48 1192.06 786.64 1196.73 C787.79 1201.4 788.83 1206.45 788.94 1212.21 C789.05 1217.98 788.12 1225.33 787.29 1231.32 C786.47 1237.3 785.37 1240.93 784 1248.12 C782.63 1255.31 780.71 1265.14 779.06 1274.47 C777.41 1283.8 775.76 1295.33 774.12 1304.12 C772.47 1312.9 771.1 1321.14 769.18 1327.18 C767.25 1333.22 764.78 1337.88 762.59 1340.35 C760.39 1342.82 758.2 1343.65 756 1342 C753.8 1340.35 752.71 1334.59 749.41 1330.47 C746.12 1326.35 740.63 1321.14 736.24 1317.29 C731.84 1313.45 727.45 1309.61 723.06 1307.41 C718.67 1305.22 713.73 1306.31 709.88 1304.12 C706.04 1301.92 703.29 1297.53 700 1294.24 C696.71 1290.94 693.41 1287.65 690.12 1284.35 C686.82 1281.06 684.63 1277.22 680.24 1274.47 C675.84 1271.73 668.71 1270.08 663.76 1267.88 C658.82 1265.69 654.16 1263.49 650.59 1261.29 C647.02 1259.1 644.49 1256.9 642.35 1254.71 C640.21 1252.51 639.55 1249.93 637.74 1248.12 C635.93 1246.31 633.46 1246.64 631.48 1243.84 C629.51 1241.04 626.71 1235.27 625.88 1231.32 C625.06 1227.36 625.88 1223.8 626.54 1220.12 C627.2 1216.44 627.97 1212.65 629.84 1209.25 C631.7 1205.84 635.38 1202.55 637.74 1199.69 C640.1 1196.84 641.64 1194.2 644 1192.12 C646.36 1190.03 648.78 1189.81 651.91 1187.18 C655.04 1184.54 659.92 1178.89 662.78 1176.31 C665.63 1173.73 667.5 1175.65 669.04 1171.69 C670.57 1167.74 673.04 1157.58 672 1152.59 C670.96 1147.59 666.13 1145.34 662.78 1141.72 C659.43 1138.09 655.58 1133.98 651.91 1130.85 C648.23 1127.72 644 1125.85 640.71 1122.94 C637.41 1120.03 633.57 1114.98 632.14 1113.39 Z" fill="#ffc2b6"/>
<path d="M647.95 1113.39 C649.11 1112.89 652.4 1111.58 654.87 1110.42 C657.34 1109.27 660.14 1107.79 662.78 1106.47 C665.41 1105.15 668.1 1103.67 670.68 1102.52 C673.26 1101.36 675.4 1100.49 678.26 1099.55 C681.11 1098.62 682.54 1097.41 687.81 1096.92 C693.08 1096.42 702.31 1096.42 709.88 1096.59 C717.46 1096.75 728.05 1096.92 733.27 1097.91 C738.49 1098.89 738.54 1100.43 741.18 1102.52 C743.81 1104.6 747.11 1107.57 749.08 1110.42 C751.06 1113.28 752.16 1115.75 753.04 1119.65 C753.91 1123.55 753.69 1128.82 754.35 1133.81 C755.01 1138.81 756.33 1144.35 756.99 1149.62 C757.65 1154.89 757.26 1161.26 758.31 1165.44 C759.35 1169.61 761.16 1171.8 763.25 1174.66 C765.33 1177.51 768.35 1179.93 770.82 1182.56 C773.29 1185.2 776.48 1186.57 778.07 1190.47 C779.66 1194.37 780.1 1200.46 780.38 1205.95 C780.65 1211.44 780.27 1217.92 779.72 1223.41 C779.17 1228.9 778.56 1232.58 777.08 1238.89 C775.6 1245.21 773.24 1254.27 770.82 1261.29 C768.41 1268.32 764.78 1277.49 762.59 1281.06 C760.39 1284.63 758.47 1282.43 757.65 1282.71  C756.82 1280.24 755.18 1270.9 752.71 1267.88 C750.24 1264.86 746.67 1264.31 742.82 1264.59 C738.98 1264.86 733.49 1269.25 729.65 1269.53 C725.8 1269.8 723.06 1267.61 719.76 1266.24 C716.47 1264.86 712.57 1263.22 709.88 1261.29 C707.19 1259.37 706.26 1257.12 703.62 1254.71 C700.99 1252.29 696.71 1248.89 694.07 1246.8 C691.44 1244.71 690.17 1244.27 687.81 1242.19 C685.45 1240.1 682.27 1235.6 679.91 1234.28 C677.55 1232.96 675.57 1235.05 673.65 1234.28 C671.73 1233.51 669.15 1233.07 668.38 1229.67 C667.61 1226.27 668.16 1218.31 669.04 1213.86 C669.91 1209.41 671.84 1205.84 673.65 1202.99 C675.46 1200.13 678.04 1200.41 679.91 1196.73 C681.77 1193.05 683.25 1185.64 684.85 1180.92 C686.44 1176.2 688.42 1173.12 689.46 1168.4 C690.5 1163.68 692.42 1157.31 691.11 1152.59 C689.79 1147.87 685.23 1144.46 681.55 1140.07 C677.87 1135.68 672.93 1129.36 669.04 1126.24 C665.14 1123.11 661.68 1123.44 658.16 1121.29 C654.65 1119.15 649.65 1114.71 647.95 1113.39 Z" fill="#ffa392"/>
<path d="M664.42 1113.39 C665.69 1112.78 669.15 1111.03 672 1109.76 C674.85 1108.5 677.87 1106.91 681.55 1105.81 C685.23 1104.71 689.35 1103.73 694.07 1103.18 C698.79 1102.63 704.67 1102.63 709.88 1102.52 C715.1 1102.41 720.7 1102.41 725.36 1102.52 C730.03 1102.63 734.48 1102.41 737.88 1103.18 C741.29 1103.95 743.65 1105.15 745.79 1107.13 C747.93 1109.11 749.52 1111.36 750.73 1115.04 C751.94 1118.71 753.04 1124.48 753.04 1129.2 C753.04 1133.92 751.66 1138.92 750.73 1143.36 C749.8 1147.81 748.31 1151.71 747.44 1155.88 C746.56 1160.05 745.73 1164.23 745.46 1168.4 C745.18 1172.57 745.73 1176.2 745.79 1180.92 C745.84 1185.64 745.9 1191.51 745.79 1196.73 C745.68 1201.95 746.17 1208.42 745.13 1212.21 C744.09 1216 741.51 1218.25 739.53 1219.46 C737.55 1220.67 735.19 1218.96 733.27 1219.46 C731.35 1219.95 729.54 1223.08 728 1222.42 C726.46 1221.76 725.25 1218.75 724.05 1215.51 C722.84 1212.27 721.3 1205.07 720.75 1202.99  L716.8 1211.55  C716.42 1210.62 715.37 1208.42 714.49 1205.95 C713.62 1203.48 712.02 1200.9 711.53 1196.73 C711.04 1192.56 711.8 1186.13 711.53 1180.92 C711.25 1175.7 710.43 1170.16 709.88 1165.44 C709.33 1160.71 709.55 1155.77 708.24 1152.59 C706.92 1149.4 704.34 1148.64 701.98 1146.33 C699.62 1144.02 696.93 1141.61 694.07 1138.75 C691.22 1135.9 688.25 1132.11 684.85 1129.2 C681.44 1126.29 677.05 1123.93 673.65 1121.29 C670.24 1118.66 665.96 1114.71 664.42 1113.39 Z" fill="#ff856d"/>
<path d="M682.21 1113.39 C683.42 1112.78 686.44 1110.81 689.46 1109.76 C692.48 1108.72 696.43 1107.79 700.33 1107.13 C704.23 1106.47 708.67 1106.03 712.85 1105.81 C717.02 1105.59 721.19 1105.59 725.36 1105.81 C729.54 1106.03 734.7 1106.36 737.88 1107.13 C741.07 1107.9 742.77 1108.34 744.47 1110.42 C746.17 1112.51 747.22 1115.97 748.09 1119.65 C748.97 1123.33 750.13 1128.82 749.74 1132.49 C749.36 1136.17 747.49 1139.41 745.79 1141.72 C744.09 1144.02 742.66 1145.29 739.53 1146.33 C736.4 1147.37 730.91 1148.47 727.01 1147.98 C723.11 1147.48 719.55 1145.45 716.14 1143.36 C712.74 1141.28 709.72 1138.09 706.59 1135.46 C703.46 1132.82 700.22 1130.19 697.36 1127.55 C694.51 1124.92 691.98 1122.01 689.46 1119.65 C686.93 1117.29 683.42 1114.43 682.21 1113.39 Z" fill="#ff6649"/>
<path d="M697.36 1113.39 C698.9 1113 702.96 1111.63 706.59 1111.08 C710.21 1110.53 714.93 1110.2 719.11 1110.09 C723.28 1109.98 728.22 1110.09 731.62 1110.42 C735.03 1110.75 737.83 1110.26 739.53 1112.07 C741.23 1113.88 741.45 1117.89 741.84 1121.29 C742.22 1124.7 742.71 1130.02 741.84 1132.49 C740.96 1134.96 738.76 1135.35 736.56 1136.12 C734.37 1136.89 731.57 1137.71 728.66 1137.11 C725.75 1136.5 722.24 1134.58 719.11 1132.49 C715.98 1130.41 712.74 1127.11 709.88 1124.59 C707.03 1122.06 704.06 1119.21 701.98 1117.34 C699.89 1115.47 698.13 1114.05 697.36 1113.39 Z" fill="#ff4824"/>
<path d="M712.85 1113.39 C714.44 1113.22 719 1112.45 722.4 1112.4 C725.8 1112.35 731.46 1112.95 733.27 1113.06  C732.78 1113.94 731.62 1117.23 730.31 1118.33 C728.99 1119.43 727.23 1120.03 725.36 1119.65 C723.5 1119.26 721.19 1117.07 719.11 1116.02 C717.02 1114.98 713.89 1113.83 712.85 1113.39 Z" fill="#ff2900"/>
<path d="M624.24 1445.76 C623.69 1441.92 627.53 1436.71 630.82 1432.59 C634.12 1428.47 639.61 1422.43 644 1421.06 C648.39 1419.69 652.78 1423.53 657.18 1424.35 C661.57 1425.18 665.96 1426.27 670.35 1426 C674.75 1425.73 679.41 1424.19 683.53 1422.71 C687.65 1421.22 691.76 1417.11 695.06 1417.11 C698.35 1417.11 700.82 1419.58 703.29 1422.71 C705.76 1425.84 708.13 1432.04 709.88 1435.88 C711.64 1439.73 713.84 1442.47 713.84 1445.76 C713.84 1449.06 712.19 1452.35 709.88 1455.65 C707.58 1458.94 704.39 1463.88 700 1465.53 C695.61 1467.18 687.92 1467.18 683.53 1465.53 C679.14 1463.88 676.94 1458.12 673.65 1455.65 C670.35 1453.18 667.61 1450.71 663.76 1450.71 C659.92 1450.71 655.53 1454.82 650.59 1455.65 C645.65 1456.47 638.51 1457.29 634.12 1455.65 C629.73 1454 624.78 1449.61 624.24 1445.76 Z" fill="#dbe1ff"/>
<path d="M736.9 1080 C736.9 1082.55 735.33 1092.27 736.9 1095.3 C738.47 1098.33 743.68 1097 746.3 1098.2 C748.92 1099.4 750.72 1100.73 752.6 1102.5 C754.48 1104.27 756.23 1106.7 757.6 1108.8 C758.97 1110.9 759.75 1112.8 760.8 1115.1 C761.85 1117.4 762.75 1119.98 763.9 1122.6 C765.05 1125.22 766.45 1128.08 767.7 1130.8 C768.95 1133.52 769.83 1135.7 771.4 1138.9 C772.97 1142.1 775.15 1146.62 777.1 1150 C779.05 1153.38 779.37 1154.35 783.12 1159.18 C786.87 1164 794.1 1172.9 799.59 1178.94 C805.08 1184.98 811.12 1191.13 816.06 1195.41 C821 1199.69 824.84 1203.54 829.24 1204.64 C833.63 1205.73 837.47 1203.98 842.41 1202 C847.35 1200.02 856.14 1194.31 858.88 1192.78  C860.25 1194.31 864.92 1197.17 867.12 1202 C869.31 1206.83 870.69 1212.98 872.06 1221.76 C873.43 1230.55 875.08 1243.73 875.35 1254.71 C875.63 1265.69 874.53 1276.67 873.71 1287.65 C872.88 1298.63 871.51 1309.61 870.41 1320.59 C869.31 1331.57 867.94 1342.55 867.12 1353.53 C866.29 1364.51 866.4 1377.14 865.47 1386.47 C864.54 1395.8 862.34 1402.39 861.52 1409.53 C860.69 1416.67 860.15 1423.25 860.53 1429.29 C860.91 1435.33 861.35 1441.37 863.82 1445.76 C866.29 1450.16 871.24 1452.9 875.35 1455.65 C879.47 1458.39 884.14 1460.31 888.53 1462.24 C892.92 1464.16 899.51 1464.43 901.71 1467.18 C903.9 1469.92 901.71 1476.78 901.71 1478.71  L921.47 1478.71  C921.42 1476.51 921.85 1470.64 921.14 1465.53 C920.43 1460.42 917.52 1454.16 917.19 1448.07 C916.86 1441.98 918.18 1436.93 919.16 1428.96 C920.15 1421 921.8 1409.04 923.12 1400.31 C924.44 1391.58 925.7 1384.38 927.07 1376.59 C928.44 1368.79 930.09 1362.86 931.35 1353.53 C932.62 1344.2 933.82 1331.57 934.65 1320.59 C935.47 1309.61 935.47 1298.63 936.29 1287.65 C937.12 1276.67 938.49 1265.69 939.59 1254.71 C940.69 1243.73 941.24 1232.75 942.88 1221.76 C944.53 1210.78 947 1199.8 949.47 1188.82 C951.94 1177.84 954.69 1165.22 957.71 1155.88 C960.73 1146.55 963.2 1139.41 967.59 1132.82 C971.98 1126.24 979.12 1121.29 984.06 1116.35 C989 1111.41 993.12 1106.75 997.24 1103.18 C1001.35 1099.61 1006.84 1098.24 1008.76 1094.94 C1010.69 1091.65 1008.76 1085.33 1008.76 1083.41  L736.9 1080 Z" fill="#dbe1ff"/>
<path d="M747 1080 C747 1082.55 745.65 1091.85 747 1095.3 C748.35 1098.75 752.8 1098.45 755.1 1100.7 C757.4 1102.95 759.23 1106.08 760.8 1108.8 C762.37 1111.52 763.25 1114.28 764.5 1117 C765.75 1119.72 766.93 1122.38 768.3 1125.1 C769.67 1127.82 771.23 1130.68 772.7 1133.3 C774.17 1135.92 775.32 1138.02 777.1 1140.8 C778.88 1143.58 780.75 1146.66 783.4 1150 C786.05 1153.34 788.11 1156.55 793 1160.82 C797.89 1165.1 806.73 1172.52 812.76 1175.65 C818.8 1178.78 823.75 1180.42 829.24 1179.6 C834.73 1178.78 840.22 1172.74 845.71 1170.71 C851.2 1168.67 856.69 1167.96 862.18 1167.41 C867.67 1166.86 873.16 1165.76 878.65 1167.41 C884.14 1169.06 890.18 1173.84 895.12 1177.29 C900.06 1180.75 903.9 1187.07 908.29 1188.16 C912.69 1189.26 917.63 1187.07 921.47 1183.88 C925.31 1180.7 928.61 1174.27 931.35 1169.06 C934.1 1163.84 935.47 1158.08 937.94 1152.59 C940.41 1147.1 942.88 1141.06 946.18 1136.12 C949.47 1131.18 953.59 1127.33 957.71 1122.94 C961.82 1118.55 966.49 1113.61 970.88 1109.76 C975.27 1105.92 980.49 1102.35 984.06 1099.88 C987.63 1097.41 990.92 1097.69 992.29 1094.94 C993.67 1092.2 992.29 1085.33 992.29 1083.41  L747 1080 Z" fill="#b6c4ff"/>
<path d="M755.1 1080 C755.1 1082.55 754.25 1091.75 755.1 1095.3 C755.95 1098.85 758.83 1099.05 760.2 1101.3 C761.57 1103.55 762.27 1106.18 763.3 1108.8 C764.33 1111.42 765.25 1114.28 766.4 1117 C767.55 1119.72 768.83 1122.48 770.2 1125.1 C771.57 1127.72 773.03 1130.18 774.6 1132.7 C776.17 1135.22 777.62 1137.32 779.6 1140.2 C781.58 1143.08 783.72 1147.39 786.5 1150 C789.28 1152.61 791.92 1152.98 796.29 1155.88 C800.67 1158.78 807.27 1165.22 812.76 1167.41 C818.25 1169.61 824.29 1170.16 829.24 1169.06 C834.18 1167.96 838.02 1164.12 842.41 1160.82 C846.8 1157.53 850.65 1152.59 855.59 1149.29 C860.53 1146 866.57 1143.25 872.06 1141.06 C877.55 1138.86 882.49 1137.49 888.53 1136.12 C894.57 1134.75 902.25 1134.2 908.29 1132.82 C914.33 1131.45 919.82 1129.53 924.76 1127.88 C929.71 1126.24 933.55 1125.41 937.94 1122.94 C942.33 1120.47 946.73 1116.35 951.12 1113.06 C955.51 1109.76 960.45 1106.2 964.29 1103.18 C968.14 1100.16 972.53 1098.24 974.18 1094.94 C975.82 1091.65 974.18 1085.33 974.18 1083.41  L755.1 1080 Z" fill="#92a6ff"/>
<path d="M763.9 1080 C763.9 1082.55 763.8 1091.55 763.9 1095.3 C764 1099.05 764.08 1099.93 764.5 1102.5 C764.92 1105.07 765.67 1108.08 766.4 1110.7 C767.13 1113.32 767.95 1115.8 768.9 1118.2 C769.85 1120.6 770.83 1122.68 772.1 1125.1 C773.37 1127.52 774.93 1130.28 776.5 1132.7 C778.07 1135.12 779.32 1136.72 781.5 1139.6 C783.68 1142.48 787.35 1147.1 789.6 1150 C791.85 1152.9 792.48 1155 795 1157 C797.52 1159 801.19 1161.53 804.7 1162 C808.21 1162.47 811.42 1160.85 816.06 1159.84 C820.7 1158.82 827.59 1158.46 832.53 1155.88 C837.47 1153.3 841.31 1148.2 845.71 1144.35 C850.1 1140.51 853.94 1135.84 858.88 1132.82 C863.82 1129.8 869.31 1128.16 875.35 1126.24 C881.39 1124.31 888.53 1122.67 895.12 1121.29 C901.71 1119.92 908.84 1119.37 914.88 1118 C920.92 1116.63 926.41 1114.98 931.35 1113.06 C936.29 1111.14 940.41 1109.49 944.53 1106.47 C948.65 1103.45 954.14 1098.78 956.06 1094.94 C957.98 1091.1 956.06 1085.33 956.06 1083.41  L763.9 1080 Z" fill="#6d88ff"/>
<path d="M947.41 1085.61 L861.76 1085.61  C861.76 1087.15 862.5 1092.71 861.76 1094.83 C861.03 1096.95 864.69 1097.61 857.37 1098.35 C850.05 1099.08 831.75 1099.15 817.84 1099.22 C803.93 1099.3 782.52 1099.52 773.92 1098.78 C765.32 1098.05 767.15 1093.37 766.24 1094.83 C765.32 1096.3 767.15 1102.88 768.43 1107.57 C769.71 1112.25 771.54 1117.82 773.92 1122.94 C776.3 1128.07 779.41 1133.74 782.71 1138.31 C786 1142.89 790.03 1147.65 793.69 1150.39 C797.35 1153.14 800.64 1154.42 804.67 1154.78 C808.69 1155.15 813.45 1154.05 817.84 1152.59 C822.24 1151.12 826.99 1148.75 831.02 1146 C835.05 1143.25 838.71 1139.59 842 1136.12 C845.29 1132.64 847.86 1128.43 850.78 1125.14 C853.71 1121.84 855.91 1118.73 859.57 1116.35 C863.23 1113.97 867.99 1112.25 872.75 1110.86 C877.5 1109.47 882.63 1108.92 888.12 1108.01 C893.61 1107.09 900.2 1106.36 905.69 1105.37 C911.18 1104.38 916.3 1103.18 921.06 1102.08 C925.82 1100.98 929.84 1099.99 934.24 1098.78 C938.63 1097.58 945.22 1097.03 947.41 1094.83 C949.61 1092.64 947.41 1087.15 947.41 1085.61 Z" fill="#496aff"/>
<path d="M850.35 1113.06 C849.32 1114.71 846.68 1119.46 844.2 1122.94 C841.71 1126.42 838.71 1130.63 835.41 1133.92 C832.12 1137.22 828.46 1140.22 824.43 1142.71 C820.41 1145.19 815.65 1147.94 811.25 1148.85 C806.86 1149.77 801.92 1149.4 798.08 1148.2 C794.24 1146.99 791.31 1144.72 788.2 1141.61 C785.08 1138.5 781.79 1133.19 779.41 1129.53 C777.03 1125.87 775.39 1122.76 773.92 1119.65 C772.46 1116.54 770.63 1113.61 770.63 1110.86 C770.63 1108.12 771.54 1105.19 773.92 1103.18 C776.3 1101.16 780.14 1099.59 784.9 1098.78 C789.66 1097.98 796.25 1097.98 802.47 1098.35 C808.69 1098.71 816.01 1099.44 822.24 1100.98 C828.46 1102.52 835.12 1105.56 839.8 1107.57 C844.49 1109.58 848.59 1112.14 850.35 1113.06 Z" fill="#244dff"/>
<path d="M838.71 1113.06 C838.16 1114.71 837.06 1119.83 835.41 1122.94 C833.76 1126.05 831.75 1128.98 828.82 1131.73 C825.9 1134.47 821.5 1137.4 817.84 1139.41 C814.18 1141.42 810.16 1143.25 806.86 1143.8 C803.57 1144.35 801.01 1143.8 798.08 1142.71 C795.15 1141.61 791.86 1139.59 789.29 1137.22 C786.73 1134.84 784.72 1131.36 782.71 1128.43 C780.69 1125.5 778.68 1122.39 777.22 1119.65 C775.75 1116.9 773.92 1114.34 773.92 1111.96 C773.92 1109.58 775.02 1107.02 777.22 1105.37 C779.41 1103.73 782.89 1102.63 787.1 1102.08 C791.31 1101.53 797.35 1101.53 802.47 1102.08 C807.59 1102.63 813.08 1104.09 817.84 1105.37 C822.6 1106.65 827.54 1108.48 831.02 1109.76 C834.5 1111.05 837.42 1112.51 838.71 1113.06 Z" fill="#002fff"/>
<path d="M908.6 1468 L913.8 1452.1 L916.3 1468 Z" fill="#ffffff"/>
<path d="M923.9 1468 L927.8 1462.1 L936.4 1468 Z" fill="#dbe1ff"/>
<path d="M205 1348.97 L227 1348.97 L230.9 1366.27 L231.7 1388.17 L234.8 1405.47 L238.7 1421.17 L244.2 1447.07 L382.3 1447.07 L386.5 1467.17 L386.5 1480.17 L205 1480.17 Z" fill="#ffffff"/>
</g>
<path d="M215.6 1466.52 v7.29 M352.98 1466.52 v7.29 M490.37 1466.52 v7.29 M627.75 1466.52 v7.29 M765.13 1466.52 v7.29 M902.51 1466.52 v7.29 M1039.89 1466.52 v7.29 M215.6 1093.95 h-7.29 M215.6 1113.56 h-7.29 M215.6 1152.78 h-7.29 M215.6 1191.99 h-7.29 M215.6 1231.21 h-7.29 M215.6 1270.43 h-7.29 M215.6 1309.65 h-7.29 M215.6 1348.87 h-7.29 M215.6 1388.08 h-7.29 M215.6 1427.3 h-7.29 M215.6 1466.52 h-7.29" stroke="#000" stroke-width="2.08" fill="none"/>
<rect x="215.6" y="1093.95" width="824.29" height="372.57" fill="none" stroke="#000" stroke-width="1.67"/>
<g>
<path d="M1061.57 475.44 L1061.57 477.44 L1082.35 490.88 L1103.13 477.44 L1103.13 475.44 Z" fill="#276419"/>
<path d="M1061.57 210.63 L1061.57 208.63 L1082.35 195.19 L1103.13 208.63 L1103.13 210.63 Z" fill="#8e0152"/>
<rect x="1061.57" y="461.32" width="41.57" height="16.11" fill="#276419"/>
<rect x="1061.57" y="445.51" width="41.57" height="16.41" fill="#3d7f1e"/>
<rect x="1061.57" y="429.7" width="41.57" height="16.41" fill="#589b28"/>
<rect x="1061.57" y="413.89" width="41.57" height="16.41" fill="#77b53c"/>
<rect x="1061.57" y="398.08" width="41.57" height="16.41" fill="#9acd61"/>
<rect x="1061.57" y="382.26" width="41.57" height="16.41" fill="#bde38d"/>
<rect x="1061.57" y="366.45" width="41.57" height="16.41" fill="#d9f0bc"/>
<rect x="1061.57" y="350.64" width="41.57" height="16.41" fill="#ecf6de"/>
<rect x="1061.57" y="334.83" width="41.57" height="16.41" fill="#f7f7f6"/>
<rect x="1061.57" y="319.02" width="41.57" height="16.41" fill="#fbe9f2"/>
<rect x="1061.57" y="303.21" width="41.57" height="16.41" fill="#fad6ea"/>
<rect x="1061.57" y="287.39" width="41.57" height="16.41" fill="#f3bcdd"/>
<rect x="1061.57" y="271.58" width="41.57" height="16.41" fill="#e897c4"/>
<rect x="1061.57" y="255.77" width="41.57" height="16.41" fill="#db6ca8"/>
<rect x="1061.57" y="239.96" width="41.57" height="16.41" fill="#cb3289"/>
<rect x="1061.57" y="224.15" width="41.57" height="16.41" fill="#b1116d"/>
<rect x="1061.57" y="208.33" width="41.57" height="16.41" fill="#8e0152"/>
<path d="M1061.57 208.63 L1082.35 195.19 L1103.13 208.63 L1103.13 477.44 L1082.35 490.88 L1061.57 477.44 Z" fill="none" stroke="#000" stroke-width="1.67" stroke-linejoin="miter"/>
<path d="M1103.13 208.63 h4.17 M1103.13 477.44 h4.17" stroke="#000" stroke-width="1.25" fill="none"/>
</g>
<g>
<path d="M1061.57 945.52 L1061.57 947.52 L1082.35 960.96 L1103.13 947.52 L1103.13 945.52 Z" fill="#276419"/>
<path d="M1061.57 680.72 L1061.57 678.72 L1082.35 665.28 L1103.13 678.72 L1103.13 680.72 Z" fill="#8e0152"/>
<rect x="1061.57" y="931.41" width="41.57" height="16.11" fill="#276419"/>
<rect x="1061.57" y="915.6" width="41.57" height="16.41" fill="#3d7f1e"/>
<rect x="1061.57" y="899.78" width="41.57" height="16.41" fill="#589b28"/>
<rect x="1061.57" y="883.97" width="41.57" height="16.41" fill="#77b53c"/>
<rect x="1061.57" y="868.16" width="41.57" height="16.41" fill="#9acd61"/>
<rect x="1061.57" y="852.35" width="41.57" height="16.41" fill="#bde38d"/>
<rect x="1061.57" y="836.54" width="41.57" height="16.41" fill="#d9f0bc"/>
<rect x="1061.57" y="820.73" width="41.57" height="16.41" fill="#ecf6de"/>
<rect x="1061.57" y="804.91" width="41.57" height="16.41" fill="#f7f7f6"/>
<rect x="1061.57" y="789.1" width="41.57" height="16.41" fill="#fbe9f2"/>
<rect x="1061.57" y="773.29" width="41.57" height="16.41" fill="#fad6ea"/>
<rect x="1061.57" y="757.48" width="41.57" height="16.41" fill="#f3bcdd"/>
<rect x="1061.57" y="741.67" width="41.57" height="16.41" fill="#e897c4"/>
<rect x="1061.57" y="725.86" width="41.57" height="16.41" fill="#db6ca8"/>
<rect x="1061.57" y="710.04" width="41.57" height="16.41" fill="#cb3289"/>
<rect x="1061.57" y="694.23" width="41.57" height="16.41" fill="#b1116d"/>
<rect x="1061.57" y="678.42" width="41.57" height="16.41" fill="#8e0152"/>
<path d="M1061.57 678.72 L1082.35 665.28 L1103.13 678.72 L1103.13 947.52 L1082.35 960.96 L1061.57 947.52 Z" fill="none" stroke="#000" stroke-width="1.67" stroke-linejoin="miter"/>
<path d="M1103.13 678.72 h4.17 M1103.13 947.52 h4.17" stroke="#000" stroke-width="1.25" fill="none"/>
</g>
<g>
<path d="M1061.57 1415.61 L1061.57 1417.61 L1082.35 1431.05 L1103.13 1417.61 L1103.13 1415.61 Z" fill="#002fff"/>
<path d="M1061.57 1150.81 L1061.57 1148.81 L1082.35 1135.37 L1103.13 1148.81 L1103.13 1150.81 Z" fill="#ff2900"/>
<rect x="1061.57" y="1399.38" width="41.57" height="18.22" fill="#002fff"/>
<rect x="1061.57" y="1381.46" width="41.57" height="18.52" fill="#244dff"/>
<rect x="1061.57" y="1363.55" width="41.57" height="18.52" fill="#496aff"/>
<rect x="1061.57" y="1345.62" width="41.57" height="18.52" fill="#6d88ff"/>
<rect x="1061.57" y="1327.7" width="41.57" height="18.52" fill="#92a6ff"/>
<rect x="1061.57" y="1309.79" width="41.57" height="18.52" fill="#b6c4ff"/>
<rect x="1061.57" y="1291.87" width="41.57" height="18.52" fill="#dbe1ff"/>
<rect x="1061.57" y="1273.94" width="41.57" height="18.52" fill="#ffffff"/>
<rect x="1061.57" y="1256.03" width="41.57" height="18.52" fill="#ffe0db"/>
<rect x="1061.57" y="1238.11" width="41.57" height="18.52" fill="#ffc2b6"/>
<rect x="1061.57" y="1220.18" width="41.57" height="18.52" fill="#ffa392"/>
<rect x="1061.57" y="1202.27" width="41.57" height="18.52" fill="#ff856d"/>
<rect x="1061.57" y="1184.35" width="41.57" height="18.52" fill="#ff6649"/>
<rect x="1061.57" y="1166.42" width="41.57" height="18.52" fill="#ff4824"/>
<rect x="1061.57" y="1148.51" width="41.57" height="18.52" fill="#ff2900"/>
<path d="M1061.57 1148.81 L1082.35 1135.37 L1103.13 1148.81 L1103.13 1417.61 L1082.35 1431.05 L1061.57 1417.61 Z" fill="none" stroke="#000" stroke-width="1.67" stroke-linejoin="miter"/>
<path d="M1103.13 1148.81 h4.17 M1103.13 1417.61 h4.17" stroke="#000" stroke-width="1.25" fill="none"/>
</g>
<text x="198.16" y="554.93" font-size="17.17" textLength="34.88" lengthAdjust="spacingAndGlyphs">−90</text>
<text x="335.55" y="554.93" font-size="17.17" textLength="34.88" lengthAdjust="spacingAndGlyphs">−60</text>
<text x="472.86" y="554.93" font-size="17.17" textLength="35" lengthAdjust="spacingAndGlyphs">−30</text>
<text x="622.5" y="554.93" font-size="17.17" textLength="10.5" lengthAdjust="spacingAndGlyphs">0</text>
<text x="754.56" y="554.93" font-size="17.17" textLength="21.12" lengthAdjust="spacingAndGlyphs">30</text>
<text x="892.01" y="554.93" font-size="17.17" textLength="21" lengthAdjust="spacingAndGlyphs">60</text>
<text x="1029.39" y="554.93" font-size="17.17" textLength="21" lengthAdjust="spacingAndGlyphs">90</text>
<text transform="translate(146.56 413.32) rotate(-90)" font-size="21.46" textLength="146.5" lengthAdjust="spacingAndGlyphs">pressure (mb)</text>
<text x="180.02" y="160.78" font-size="17.17" textLength="21" lengthAdjust="spacingAndGlyphs">50</text>
<text x="169.39" y="180.39" font-size="17.17" textLength="31.62" lengthAdjust="spacingAndGlyphs">100</text>
<text x="169.39" y="219.61" font-size="17.17" textLength="31.62" lengthAdjust="spacingAndGlyphs">200</text>
<text x="169.39" y="258.82" font-size="17.17" textLength="31.62" lengthAdjust="spacingAndGlyphs">300</text>
<text x="169.52" y="298.04" font-size="17.17" textLength="31.5" lengthAdjust="spacingAndGlyphs">400</text>
<text x="169.52" y="337.26" font-size="17.17" textLength="31.5" lengthAdjust="spacingAndGlyphs">500</text>
<text x="169.52" y="376.48" font-size="17.17" textLength="31.5" lengthAdjust="spacingAndGlyphs">600</text>
<text x="169.52" y="415.7" font-size="17.17" textLength="31.5" lengthAdjust="spacingAndGlyphs">700</text>
<text x="169.52" y="454.91" font-size="17.17" textLength="31.5" lengthAdjust="spacingAndGlyphs">800</text>
<text x="169.52" y="494.13" font-size="17.17" textLength="31.5" lengthAdjust="spacingAndGlyphs">900</text>
<text x="158.89" y="533.35" font-size="17.17" textLength="42.12" lengthAdjust="spacingAndGlyphs">1000</text>
<text x="215.6" y="141.28" font-size="20.39" textLength="222.25" lengthAdjust="spacingAndGlyphs">CTL.1950 (2015-2020)</text>
<text x="1003.77" y="141.28" font-size="20.39" textLength="36.12" lengthAdjust="spacingAndGlyphs">m/s</text>
<text x="1106.96" y="469.12" font-size="19.31" textLength="48.25" lengthAdjust="spacingAndGlyphs">-40.0</text>
<text x="1107.09" y="453.31" font-size="19.31" textLength="48.12" lengthAdjust="spacingAndGlyphs">-30.0</text>
<text x="1107.09" y="437.5" font-size="19.31" textLength="48.12" lengthAdjust="spacingAndGlyphs">-25.0</text>
<text x="1107.09" y="421.69" font-size="19.31" textLength="48.12" lengthAdjust="spacingAndGlyphs">-20.0</text>
<text x="1107.09" y="405.88" font-size="19.31" textLength="48.12" lengthAdjust="spacingAndGlyphs">-15.0</text>
<text x="1107.09" y="390.06" font-size="19.31" textLength="48.12" lengthAdjust="spacingAndGlyphs">-10.0</text>
<text x="1118.96" y="374.25" font-size="19.31" textLength="36.25" lengthAdjust="spacingAndGlyphs">-5.0</text>
<text x="1118.96" y="358.44" font-size="19.31" textLength="36.25" lengthAdjust="spacingAndGlyphs">-2.5</text>
<text x="1125.59" y="342.63" font-size="19.31" textLength="29.62" lengthAdjust="spacingAndGlyphs">2.5</text>
<text x="1125.59" y="326.82" font-size="19.31" textLength="29.62" lengthAdjust="spacingAndGlyphs">5.0</text>
<text x="1113.71" y="311.01" font-size="19.31" textLength="41.5" lengthAdjust="spacingAndGlyphs">10.0</text>
<text x="1113.71" y="295.19" font-size="19.31" textLength="41.5" lengthAdjust="spacingAndGlyphs">15.0</text>
<text x="1113.71" y="279.38" font-size="19.31" textLength="41.5" lengthAdjust="spacingAndGlyphs">20.0</text>
<text x="1113.71" y="263.57" font-size="19.31" textLength="41.5" lengthAdjust="spacingAndGlyphs">25.0</text>
<text x="1113.71" y="247.76" font-size="19.31" textLength="41.5" lengthAdjust="spacingAndGlyphs">30.0</text>
<text x="1113.59" y="231.95" font-size="19.31" textLength="41.62" lengthAdjust="spacingAndGlyphs">40.0</text>
<text x="198.16" y="1025.02" font-size="17.17" textLength="34.88" lengthAdjust="spacingAndGlyphs">−90</text>
<text x="335.55" y="1025.02" font-size="17.17" textLength="34.88" lengthAdjust="spacingAndGlyphs">−60</text>
<text x="472.86" y="1025.02" font-size="17.17" textLength="35" lengthAdjust="spacingAndGlyphs">−30</text>
<text x="622.5" y="1025.02" font-size="17.17" textLength="10.5" lengthAdjust="spacingAndGlyphs">0</text>
<text x="754.56" y="1025.02" font-size="17.17" textLength="21.12" lengthAdjust="spacingAndGlyphs">30</text>
<text x="892.01" y="1025.02" font-size="17.17" textLength="21" lengthAdjust="spacingAndGlyphs">60</text>
<text x="1029.39" y="1025.02" font-size="17.17" textLength="21" lengthAdjust="spacingAndGlyphs">90</text>
<text transform="translate(146.56 883.4) rotate(-90)" font-size="21.46" textLength="146.5" lengthAdjust="spacingAndGlyphs">pressure (mb)</text>
<text x="180.02" y="630.86" font-size="17.17" textLength="21" lengthAdjust="spacingAndGlyphs">50</text>
<text x="169.39" y="650.47" font-size="17.17" textLength="31.62" lengthAdjust="spacingAndGlyphs">100</text>
<text x="169.39" y="689.69" font-size="17.17" textLength="31.62" lengthAdjust="spacingAndGlyphs">200</text>
<text x="169.39" y="728.91" font-size="17.17" textLength="31.62" lengthAdjust="spacingAndGlyphs">300</text>
<text x="169.52" y="768.13" font-size="17.17" textLength="31.5" lengthAdjust="spacingAndGlyphs">400</text>
<text x="169.52" y="807.35" font-size="17.17" textLength="31.5" lengthAdjust="spacingAndGlyphs">500</text>
<text x="169.52" y="846.56" font-size="17.17" textLength="31.5" lengthAdjust="spacingAndGlyphs">600</text>
<text x="169.52" y="885.78" font-size="17.17" textLength="31.5" lengthAdjust="spacingAndGlyphs">700</text>
<text x="169.52" y="925" font-size="17.17" textLength="31.5" lengthAdjust="spacingAndGlyphs">800</text>
<text x="169.52" y="964.22" font-size="17.17" textLength="31.5" lengthAdjust="spacingAndGlyphs">900</text>
<text x="158.89" y="1003.44" font-size="17.17" textLength="42.12" lengthAdjust="spacingAndGlyphs">1000</text>
<text x="215.6" y="611.36" font-size="20.39" textLength="322" lengthAdjust="spacingAndGlyphs">MERRA2 Reanalysis (1980-2016)</text>
<text x="984.39" y="611.36" font-size="20.39" textLength="55.5" lengthAdjust="spacingAndGlyphs">m s-1</text>
<text x="1106.96" y="939.21" font-size="19.31" textLength="48.25" lengthAdjust="spacingAndGlyphs">-40.0</text>
<text x="1107.09" y="923.4" font-size="19.31" textLength="48.12" lengthAdjust="spacingAndGlyphs">-30.0</text>
<text x="1107.09" y="907.58" font-size="19.31" textLength="48.12" lengthAdjust="spacingAndGlyphs">-25.0</text>
<text x="1107.09" y="891.77" font-size="19.31" textLength="48.12" lengthAdjust="spacingAndGlyphs">-20.0</text>
<text x="1107.09" y="875.96" font-size="19.31" textLength="48.12" lengthAdjust="spacingAndGlyphs">-15.0</text>
<text x="1107.09" y="860.15" font-size="19.31" textLength="48.12" lengthAdjust="spacingAndGlyphs">-10.0</text>
<text x="1118.96" y="844.34" font-size="19.31" textLength="36.25" lengthAdjust="spacingAndGlyphs">-5.0</text>
<text x="1118.96" y="828.53" font-size="19.31" textLength="36.25" lengthAdjust="spacingAndGlyphs">-2.5</text>
<text x="1125.59" y="812.71" font-size="19.31" textLength="29.62" lengthAdjust="spacingAndGlyphs">2.5</text>
<text x="1125.59" y="796.9" font-size="19.31" textLength="29.62" lengthAdjust="spacingAndGlyphs">5.0</text>
<text x="1113.71" y="781.09" font-size="19.31" textLength="41.5" lengthAdjust="spacingAndGlyphs">10.0</text>
<text x="1113.71" y="765.28" font-size="19.31" textLength="41.5" lengthAdjust="spacingAndGlyphs">15.0</text>
<text x="1113.71" y="749.47" font-size="19.31" textLength="41.5" lengthAdjust="spacingAndGlyphs">20.0</text>
<text x="1113.71" y="733.66" font-size="19.31" textLength="41.5" lengthAdjust="spacingAndGlyphs">25.0</text>
<text x="1113.71" y="717.84" font-size="19.31" textLength="41.5" lengthAdjust="spacingAndGlyphs">30.0</text>
<text x="1113.59" y="702.03" font-size="19.31" textLength="41.62" lengthAdjust="spacingAndGlyphs">40.0</text>
<text x="198.16" y="1495.1" font-size="17.17" textLength="34.88" lengthAdjust="spacingAndGlyphs">−90</text>
<text x="335.55" y="1495.1" font-size="17.17" textLength="34.88" lengthAdjust="spacingAndGlyphs">−60</text>
<text x="472.86" y="1495.1" font-size="17.17" textLength="35" lengthAdjust="spacingAndGlyphs">−30</text>
<text x="622.5" y="1495.1" font-size="17.17" textLength="10.5" lengthAdjust="spacingAndGlyphs">0</text>
<text x="754.56" y="1495.1" font-size="17.17" textLength="21.12" lengthAdjust="spacingAndGlyphs">30</text>
<text x="892.01" y="1495.1" font-size="17.17" textLength="21" lengthAdjust="spacingAndGlyphs">60</text>
<text x="1029.39" y="1495.1" font-size="17.17" textLength="21" lengthAdjust="spacingAndGlyphs">90</text>
<text transform="translate(146.56 1353.48) rotate(-90)" font-size="21.46" textLength="146.5" lengthAdjust="spacingAndGlyphs">pressure (mb)</text>
<text x="180.02" y="1100.95" font-size="17.17" textLength="21" lengthAdjust="spacingAndGlyphs">50</text>
<text x="169.39" y="1120.56" font-size="17.17" textLength="31.62" lengthAdjust="spacingAndGlyphs">100</text>
<text x="169.39" y="1159.78" font-size="17.17" textLength="31.62" lengthAdjust="spacingAndGlyphs">200</text>
<text x="169.39" y="1198.99" font-size="17.17" textLength="31.62" lengthAdjust="spacingAndGlyphs">300</text>
<text x="169.52" y="1238.21" font-size="17.17" textLength="31.5" lengthAdjust="spacingAndGlyphs">400</text>
<text x="169.52" y="1277.43" font-size="17.17" textLength="31.5" lengthAdjust="spacingAndGlyphs">500</text>
<text x="169.52" y="1316.65" font-size="17.17" textLength="31.5" lengthAdjust="spacingAndGlyphs">600</text>
<text x="169.52" y="1355.87" font-size="17.17" textLength="31.5" lengthAdjust="spacingAndGlyphs">700</text>
<text x="169.52" y="1395.08" font-size="17.17" textLength="31.5" lengthAdjust="spacingAndGlyphs">800</text>
<text x="169.52" y="1434.3" font-size="17.17" textLength="31.5" lengthAdjust="spacingAndGlyphs">900</text>
<text x="158.89" y="1473.52" font-size="17.17" textLength="42.12" lengthAdjust="spacingAndGlyphs">1000</text>
<text x="506.56" y="1081.45" font-size="24.68" textLength="242.38" lengthAdjust="spacingAndGlyphs">Model - Observation</text>
<text x="1003.77" y="1081.45" font-size="20.39" textLength="36.12" lengthAdjust="spacingAndGlyphs">m/s</text>
<text x="1107.09" y="1407.18" font-size="19.31" textLength="48.12" lengthAdjust="spacingAndGlyphs">-7.00</text>
<text x="1107.09" y="1389.26" font-size="19.31" textLength="48.12" lengthAdjust="spacingAndGlyphs">-6.00</text>
<text x="1107.09" y="1371.34" font-size="19.31" textLength="48.12" lengthAdjust="spacingAndGlyphs">-5.00</text>
<text x="1106.96" y="1353.43" font-size="19.31" textLength="48.25" lengthAdjust="spacingAndGlyphs">-4.00</text>
<text x="1107.09" y="1335.5" font-size="19.31" textLength="48.12" lengthAdjust="spacingAndGlyphs">-3.00</text>
<text x="1107.09" y="1317.58" font-size="19.31" textLength="48.12" lengthAdjust="spacingAndGlyphs">-2.00</text>
<text x="1107.09" y="1299.66" font-size="19.31" textLength="48.12" lengthAdjust="spacingAndGlyphs">-1.00</text>
<text x="1113.71" y="1281.75" font-size="19.31" textLength="41.5" lengthAdjust="spacingAndGlyphs">1.00</text>
<text x="1113.71" y="1263.82" font-size="19.31" textLength="41.5" lengthAdjust="spacingAndGlyphs">2.00</text>
<text x="1113.71" y="1245.91" font-size="19.31" textLength="41.5" lengthAdjust="spacingAndGlyphs">3.00</text>
<text x="1113.59" y="1227.99" font-size="19.31" textLength="41.62" lengthAdjust="spacingAndGlyphs">4.00</text>
<text x="1113.71" y="1210.06" font-size="19.31" textLength="41.5" lengthAdjust="spacingAndGlyphs">5.00</text>
<text x="1113.71" y="1192.14" font-size="19.31" textLength="41.5" lengthAdjust="spacingAndGlyphs">6.00</text>
<text x="1113.71" y="1174.23" font-size="19.31" textLength="41.5" lengthAdjust="spacingAndGlyphs">7.00</text>
<text x="1061.56" y="134.69" font-size="20.39" textLength="40.62" lengthAdjust="spacingAndGlyphs">Max</text>
<text x="1061.56" y="156.69" font-size="20.39" textLength="53.38" lengthAdjust="spacingAndGlyphs">Mean</text>
<text x="1061.56" y="178.69" font-size="20.39" textLength="34.75" lengthAdjust="spacingAndGlyphs">Min</text>
<text x="1132.32" y="134.69" font-size="20.39" textLength="56.75" lengthAdjust="spacingAndGlyphs">44.67</text>
<text x="1144.94" y="156.69" font-size="20.39" textLength="44.12" lengthAdjust="spacingAndGlyphs">6.57</text>
<text x="1125.44" y="178.69" font-size="20.39" textLength="63.62" lengthAdjust="spacingAndGlyphs">-17.02</text>
<text x="1061.56" y="604.78" font-size="20.39" textLength="40.62" lengthAdjust="spacingAndGlyphs">Max</text>
<text x="1061.56" y="626.78" font-size="20.39" textLength="53.38" lengthAdjust="spacingAndGlyphs">Mean</text>
<text x="1061.56" y="648.78" font-size="20.39" textLength="34.75" lengthAdjust="spacingAndGlyphs">Min</text>
<text x="1132.56" y="604.78" font-size="20.39" textLength="56.5" lengthAdjust="spacingAndGlyphs">43.11</text>
<text x="1145.06" y="626.78" font-size="20.39" textLength="44" lengthAdjust="spacingAndGlyphs">6.61</text>
<text x="1125.44" y="648.78" font-size="20.39" textLength="63.62" lengthAdjust="spacingAndGlyphs">-13.08</text>
<text x="1061.56" y="1074.86" font-size="20.39" textLength="40.62" lengthAdjust="spacingAndGlyphs">Max</text>
<text x="1061.56" y="1096.86" font-size="20.39" textLength="53.38" lengthAdjust="spacingAndGlyphs">Mean</text>
<text x="1061.56" y="1118.86" font-size="20.39" textLength="34.75" lengthAdjust="spacingAndGlyphs">Min</text>
<text x="1145.06" y="1074.86" font-size="20.39" textLength="44" lengthAdjust="spacingAndGlyphs">7.31</text>
<text x="1138.06" y="1096.86" font-size="20.39" textLength="51" lengthAdjust="spacingAndGlyphs">-0.12</text>
<text x="1125.32" y="1118.86" font-size="20.39" textLength="63.75" lengthAdjust="spacingAndGlyphs">-11.33</text>
<text x="1061.56" y="1461.84" font-size="20.39" textLength="55.38" lengthAdjust="spacingAndGlyphs">RMSE</text>
<text x="1061.56" y="1483.84" font-size="20.39" textLength="56.62" lengthAdjust="spacingAndGlyphs">CORR</text>
<text x="1144.94" y="1461.84" font-size="20.39" textLength="44.12" lengthAdjust="spacingAndGlyphs">2.37</text>
<text x="1145.32" y="1483.84" font-size="20.39" textLength="43.75" lengthAdjust="spacingAndGlyphs">0.97</text>
<text x="587.06" y="94" font-size="38.62" textLength="100.88" lengthAdjust="spacingAndGlyphs">U DJF</text>
</svg></body></html>
